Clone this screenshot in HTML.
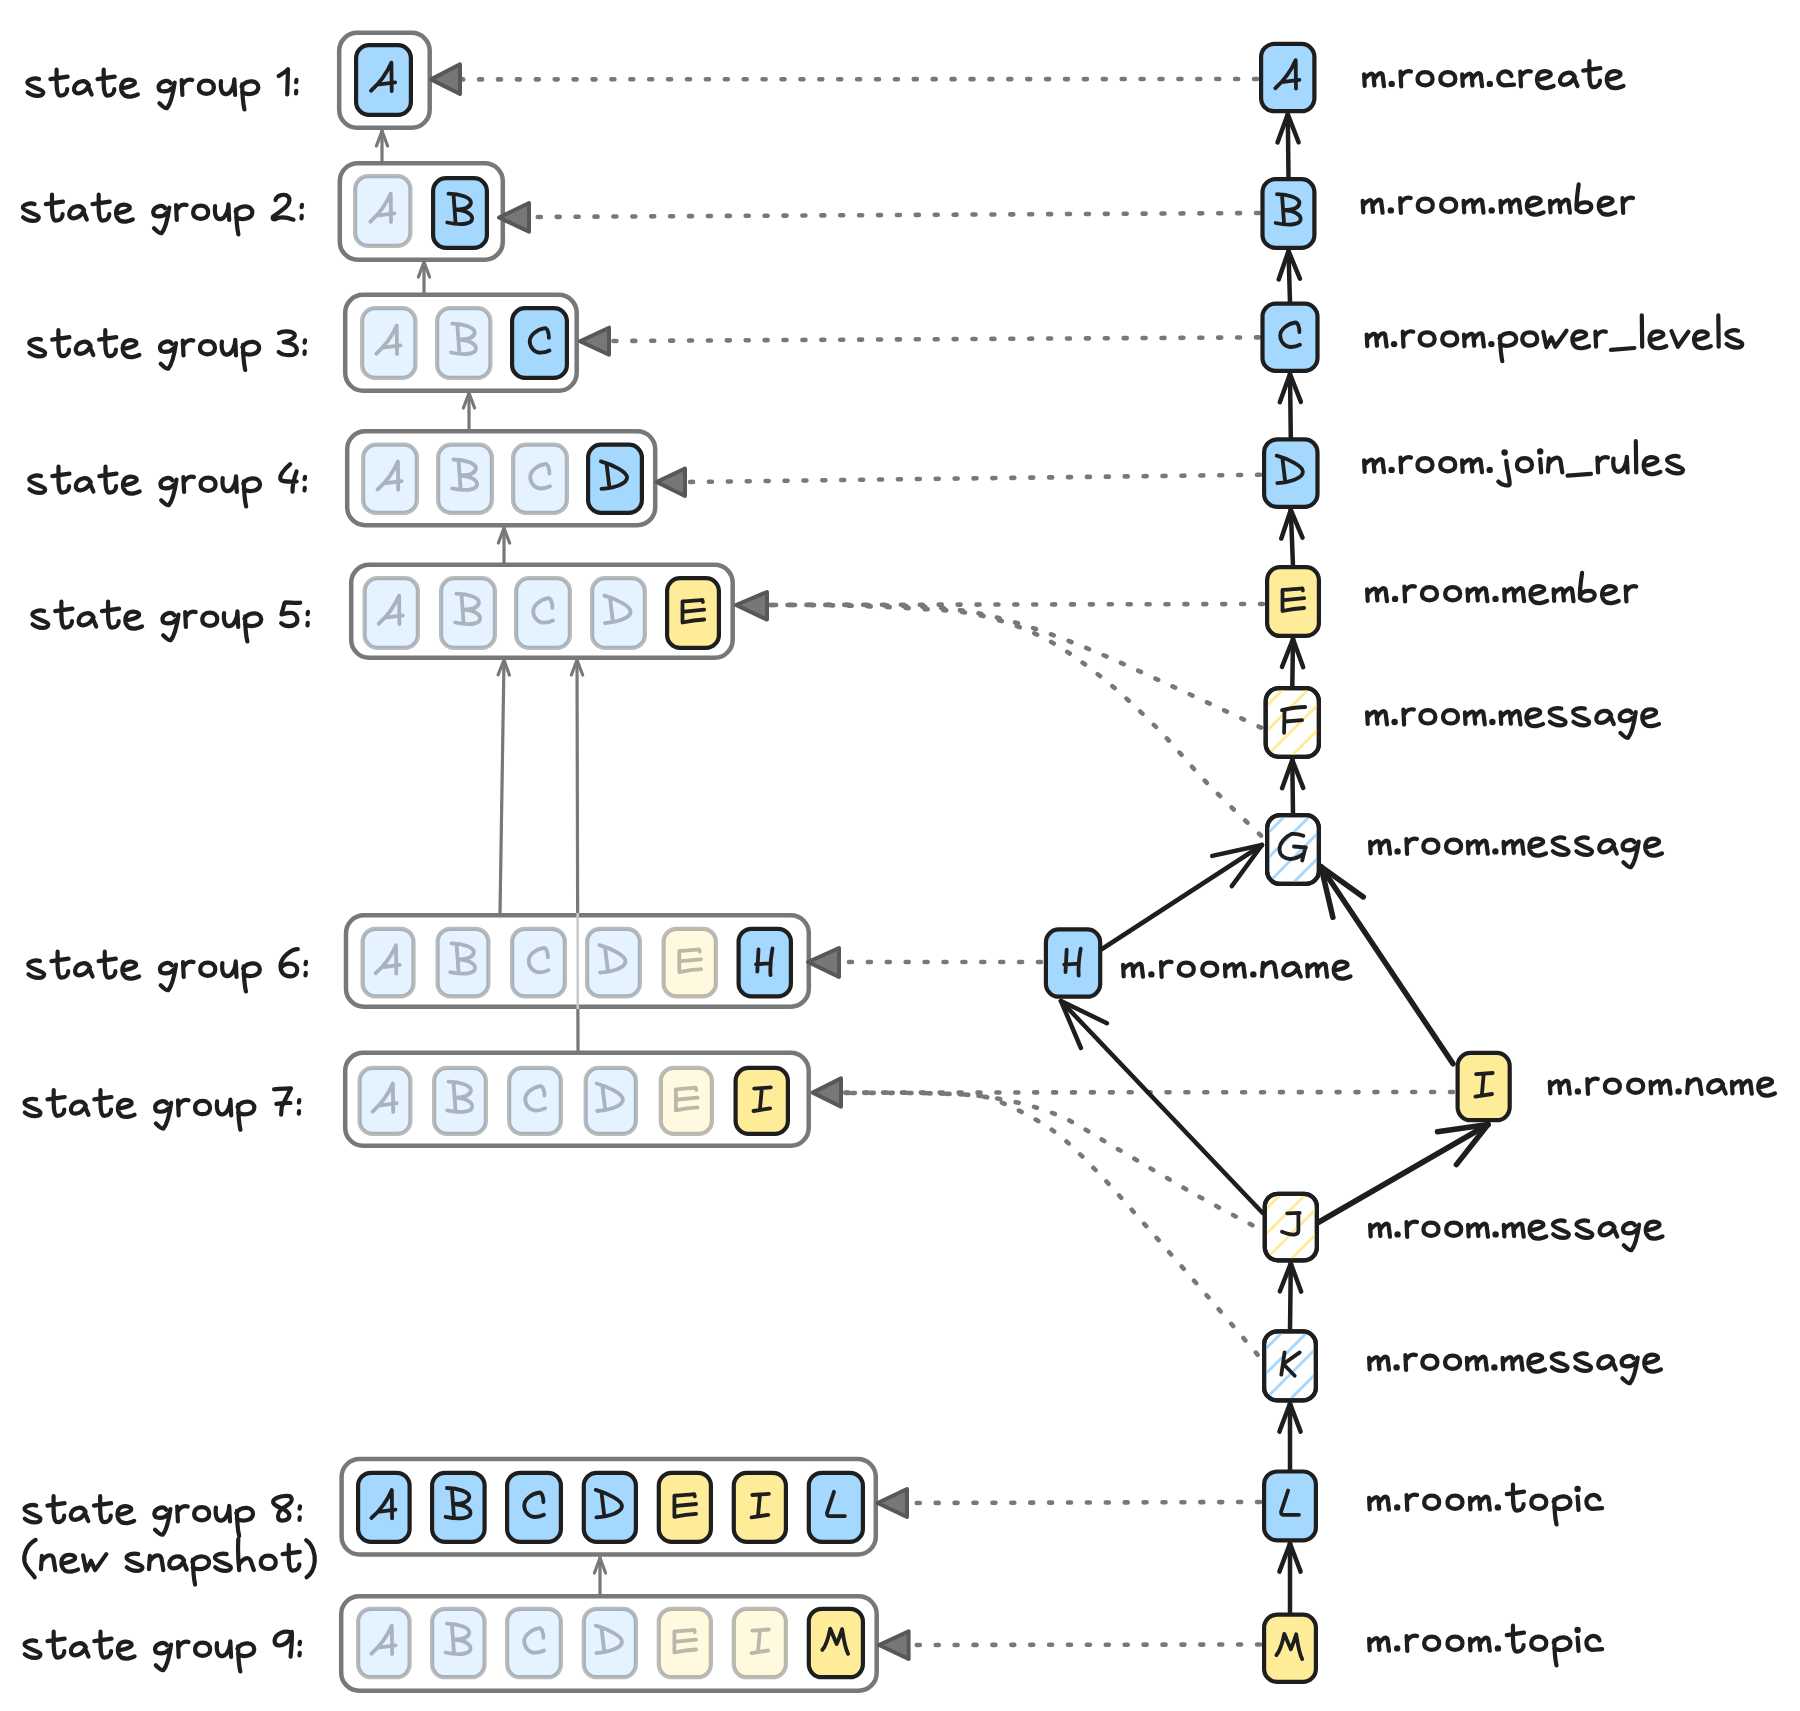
<!DOCTYPE html>
<html><head><meta charset="utf-8"><style>html,body{margin:0;padding:0;background:#fff;width:1800px;height:1711px;overflow:hidden}svg{display:block}</style></head><body>
<svg width="1800" height="1711" viewBox="0 0 1800 1711">
<style>.lb{font-family:"Liberation Sans",sans-serif;font-size:36px;fill:#1e1e1e;stroke:#1e1e1e;stroke-width:0.9px}.nl{font-family:"Liberation Sans",sans-serif;font-size:37px;fill:#1e1e1e;stroke:#1e1e1e;stroke-width:0.6px}</style>
<rect width="1800" height="1711" fill="#ffffff"/>
<g fill="none" stroke="#1e1e1e" stroke-width="4.2" stroke-linecap="round" stroke-linejoin="round"><path transform="translate(25.5,95.0)" d="M13.5,-16 C8.7,-17.5 1,-15.3 2,-11.8 C3.1,-8.3 17.8,-6 17.8,-2.4 C17.8,2 7.3,2 2.1,-2.8"/><path transform="translate(49.2,95.0)" d="M7.4,-25.3 C7.4,-12.4 6.6,0.4 11.3,0.6 C15.9,0.6 18,-2.7 18,-5.8 M1.2,-15.9 L18.4,-18.3"/><path transform="translate(72.6,95.0)" d="M16.3,-9.7 C12.8,-16.7 3.1,-13.9 1.5,-6.9 C0.3,0 10.1,0.7 15.6,-8.3 L19,-0.5"/><path transform="translate(96.3,95.0)" d="M7.4,-25.3 C7.4,-12.4 6.6,0.4 11.3,0.6 C15.9,0.6 18,-2.7 18,-5.8 M1.2,-15.9 L18.4,-18.3"/><path transform="translate(119.6,95.0)" d="M1.5,-6.6 C6.6,-7 13.6,-8.9 15.2,-11.3 C16,-15.2 9.7,-16.3 5.1,-14.4 C0.5,-11.3 0.3,-3.5 5.1,0.5 C9.7,2.8 15.9,0.8 18.3,-0.6"/><path transform="translate(157.3,95.0)" d="M13.2,-11.8 C9.7,-16.7 0.7,-12.5 1.4,-6.9 C2.1,-2.1 11.1,-2.8 14.6,-6.9 M17.4,-12.5 C16,-2.8 13.9,8.3 9.7,13.2 C7.6,13.9 4.2,10.4 2.1,8.3"/><path transform="translate(180.0,95.0)" d="M1.7,-15 L2.4,0 M2.2,-10 C5,-15 9.4,-16 12.2,-15"/><path transform="translate(196.9,95.0)" d="M2,-7.6 C2,-12.2 5.3,-14.4 9.5,-14.4 C13.9,-14.4 17,-11.8 17,-7.6 C17,-3.4 13.9,-1.1 9.5,-1.1 C5.3,-1.1 2,-3.4 2,-7.6 Z"/><path transform="translate(219.9,95.0)" d="M1.1,-13.9 C0,-4.4 2.8,0 7.2,-1.1 C11.7,-2.2 14.4,-10 14.4,-15.6 L15.2,0"/><path transform="translate(240.5,95.0)" d="M1.7,-10.6 C1.8,-2 2.5,8 3.9,14.4 M1.1,-8.3 C6.1,-16.1 18.3,-15 17.8,-7.2 C17.2,-0.6 6.1,0.6 1.7,-2.8"/><path transform="translate(277.2,95.0)" d="M1.5,-19 C4,-20.7 9,-23.3 10.8,-25.7 L10,-0.5"/><path transform="translate(293.8,95.0)" d="M2.7,-15.2 L2.3,-12.8 M2.5,-4.2 L2.2,-1.7"/></g>
<g fill="#1e1e1e"></g>
<g fill="none" stroke="#1e1e1e" stroke-width="4.2" stroke-linecap="round" stroke-linejoin="round"><path transform="translate(21.0,220.0)" d="M13.5,-16 C8.7,-17.5 1,-15.3 2,-11.8 C3.1,-8.3 17.8,-6 17.8,-2.4 C17.8,2 7.3,2 2.1,-2.8"/><path transform="translate(44.6,220.0)" d="M7.4,-25.3 C7.4,-12.4 6.6,0.4 11.3,0.6 C15.9,0.6 18,-2.7 18,-5.8 M1.2,-15.9 L18.4,-18.3"/><path transform="translate(67.8,220.0)" d="M16.3,-9.7 C12.8,-16.7 3.1,-13.9 1.5,-6.9 C0.3,0 10.1,0.7 15.6,-8.3 L19,-0.5"/><path transform="translate(91.3,220.0)" d="M7.4,-25.3 C7.4,-12.4 6.6,0.4 11.3,0.6 C15.9,0.6 18,-2.7 18,-5.8 M1.2,-15.9 L18.4,-18.3"/><path transform="translate(114.5,220.0)" d="M1.5,-6.6 C6.6,-7 13.6,-8.9 15.2,-11.3 C16,-15.2 9.7,-16.3 5.1,-14.4 C0.5,-11.3 0.3,-3.5 5.1,0.5 C9.7,2.8 15.9,0.8 18.3,-0.6"/><path transform="translate(151.9,220.0)" d="M13.2,-11.8 C9.7,-16.7 0.7,-12.5 1.4,-6.9 C2.1,-2.1 11.1,-2.8 14.6,-6.9 M17.4,-12.5 C16,-2.8 13.9,8.3 9.7,13.2 C7.6,13.9 4.2,10.4 2.1,8.3"/><path transform="translate(174.4,220.0)" d="M1.7,-15 L2.4,0 M2.2,-10 C5,-15 9.4,-16 12.2,-15"/><path transform="translate(191.2,220.0)" d="M2,-7.6 C2,-12.2 5.3,-14.4 9.5,-14.4 C13.9,-14.4 17,-11.8 17,-7.6 C17,-3.4 13.9,-1.1 9.5,-1.1 C5.3,-1.1 2,-3.4 2,-7.6 Z"/><path transform="translate(214.0,220.0)" d="M1.1,-13.9 C0,-4.4 2.8,0 7.2,-1.1 C11.7,-2.2 14.4,-10 14.4,-15.6 L15.2,0"/><path transform="translate(234.5,220.0)" d="M1.7,-10.6 C1.8,-2 2.5,8 3.9,14.4 M1.1,-8.3 C6.1,-16.1 18.3,-15 17.8,-7.2 C17.2,-0.6 6.1,0.6 1.7,-2.8"/><path transform="translate(270.8,220.0)" d="M4.7,-20 C5.7,-24 11.7,-26.3 15.7,-24.7 C20,-22.7 19.3,-17 15,-13 C10,-9 6.7,-6.3 3.7,-4.3 C0.7,-2.7 1.7,0.3 5,-1 C8.3,-3 15,-3 22.7,-0.3"/><path transform="translate(299.3,220.0)" d="M2.7,-15.2 L2.3,-12.8 M2.5,-4.2 L2.2,-1.7"/></g>
<g fill="#1e1e1e"></g>
<g fill="none" stroke="#1e1e1e" stroke-width="4.2" stroke-linecap="round" stroke-linejoin="round"><path transform="translate(27.4,355.5)" d="M13.5,-16 C8.7,-17.5 1,-15.3 2,-11.8 C3.1,-8.3 17.8,-6 17.8,-2.4 C17.8,2 7.3,2 2.1,-2.8"/><path transform="translate(51.0,355.5)" d="M7.4,-25.3 C7.4,-12.4 6.6,0.4 11.3,0.6 C15.9,0.6 18,-2.7 18,-5.8 M1.2,-15.9 L18.4,-18.3"/><path transform="translate(74.3,355.5)" d="M16.3,-9.7 C12.8,-16.7 3.1,-13.9 1.5,-6.9 C0.3,0 10.1,0.7 15.6,-8.3 L19,-0.5"/><path transform="translate(97.9,355.5)" d="M7.4,-25.3 C7.4,-12.4 6.6,0.4 11.3,0.6 C15.9,0.6 18,-2.7 18,-5.8 M1.2,-15.9 L18.4,-18.3"/><path transform="translate(121.1,355.5)" d="M1.5,-6.6 C6.6,-7 13.6,-8.9 15.2,-11.3 C16,-15.2 9.7,-16.3 5.1,-14.4 C0.5,-11.3 0.3,-3.5 5.1,0.5 C9.7,2.8 15.9,0.8 18.3,-0.6"/><path transform="translate(158.6,355.5)" d="M13.2,-11.8 C9.7,-16.7 0.7,-12.5 1.4,-6.9 C2.1,-2.1 11.1,-2.8 14.6,-6.9 M17.4,-12.5 C16,-2.8 13.9,8.3 9.7,13.2 C7.6,13.9 4.2,10.4 2.1,8.3"/><path transform="translate(181.1,355.5)" d="M1.7,-15 L2.4,0 M2.2,-10 C5,-15 9.4,-16 12.2,-15"/><path transform="translate(198.0,355.5)" d="M2,-7.6 C2,-12.2 5.3,-14.4 9.5,-14.4 C13.9,-14.4 17,-11.8 17,-7.6 C17,-3.4 13.9,-1.1 9.5,-1.1 C5.3,-1.1 2,-3.4 2,-7.6 Z"/><path transform="translate(220.8,355.5)" d="M1.1,-13.9 C0,-4.4 2.8,0 7.2,-1.1 C11.7,-2.2 14.4,-10 14.4,-15.6 L15.2,0"/><path transform="translate(241.3,355.5)" d="M1.7,-10.6 C1.8,-2 2.5,8 3.9,14.4 M1.1,-8.3 C6.1,-16.1 18.3,-15 17.8,-7.2 C17.2,-0.6 6.1,0.6 1.7,-2.8"/><path transform="translate(277.8,355.5)" d="M1.2,-22.5 C4.7,-24.8 13.4,-24.8 16.4,-21.9 C18.7,-19.3 14.9,-15.5 5.8,-13.4 C14.9,-12.3 19,-9.4 19,-5.8 C19,-1.8 16.4,-0.3 10.5,-0.3 C6.1,-0.5 3.2,-1.5 0.9,-3.5"/><path transform="translate(302.3,355.5)" d="M2.7,-15.2 L2.3,-12.8 M2.5,-4.2 L2.2,-1.7"/></g>
<g fill="#1e1e1e"></g>
<g fill="none" stroke="#1e1e1e" stroke-width="4.2" stroke-linecap="round" stroke-linejoin="round"><path transform="translate(27.4,492.0)" d="M13.5,-16 C8.7,-17.5 1,-15.3 2,-11.8 C3.1,-8.3 17.8,-6 17.8,-2.4 C17.8,2 7.3,2 2.1,-2.8"/><path transform="translate(51.1,492.0)" d="M7.4,-25.3 C7.4,-12.4 6.6,0.4 11.3,0.6 C15.9,0.6 18,-2.7 18,-5.8 M1.2,-15.9 L18.4,-18.3"/><path transform="translate(74.4,492.0)" d="M16.3,-9.7 C12.8,-16.7 3.1,-13.9 1.5,-6.9 C0.3,0 10.1,0.7 15.6,-8.3 L19,-0.5"/><path transform="translate(98.1,492.0)" d="M7.4,-25.3 C7.4,-12.4 6.6,0.4 11.3,0.6 C15.9,0.6 18,-2.7 18,-5.8 M1.2,-15.9 L18.4,-18.3"/><path transform="translate(121.4,492.0)" d="M1.5,-6.6 C6.6,-7 13.6,-8.9 15.2,-11.3 C16,-15.2 9.7,-16.3 5.1,-14.4 C0.5,-11.3 0.3,-3.5 5.1,0.5 C9.7,2.8 15.9,0.8 18.3,-0.6"/><path transform="translate(159.1,492.0)" d="M13.2,-11.8 C9.7,-16.7 0.7,-12.5 1.4,-6.9 C2.1,-2.1 11.1,-2.8 14.6,-6.9 M17.4,-12.5 C16,-2.8 13.9,8.3 9.7,13.2 C7.6,13.9 4.2,10.4 2.1,8.3"/><path transform="translate(181.7,492.0)" d="M1.7,-15 L2.4,0 M2.2,-10 C5,-15 9.4,-16 12.2,-15"/><path transform="translate(198.6,492.0)" d="M2,-7.6 C2,-12.2 5.3,-14.4 9.5,-14.4 C13.9,-14.4 17,-11.8 17,-7.6 C17,-3.4 13.9,-1.1 9.5,-1.1 C5.3,-1.1 2,-3.4 2,-7.6 Z"/><path transform="translate(221.6,492.0)" d="M1.1,-13.9 C0,-4.4 2.8,0 7.2,-1.1 C11.7,-2.2 14.4,-10 14.4,-15.6 L15.2,0"/><path transform="translate(242.2,492.0)" d="M1.7,-10.6 C1.8,-2 2.5,8 3.9,14.4 M1.1,-8.3 C6.1,-16.1 18.3,-15 17.8,-7.2 C17.2,-0.6 6.1,0.6 1.7,-2.8"/><path transform="translate(278.8,492.0)" d="M11.4,-27.8 C6.4,-23.4 0.6,-17.5 1.5,-13.1 C2.3,-10.2 7.9,-10.2 17.8,-10.5 M17.8,-20.5 C16.1,-16.1 13.7,-8.8 13.7,-0.3"/><path transform="translate(302.3,492.0)" d="M2.7,-15.2 L2.3,-12.8 M2.5,-4.2 L2.2,-1.7"/></g>
<g fill="#1e1e1e"></g>
<g fill="none" stroke="#1e1e1e" stroke-width="4.2" stroke-linecap="round" stroke-linejoin="round"><path transform="translate(30.5,627.0)" d="M13.5,-16 C8.7,-17.5 1,-15.3 2,-11.8 C3.1,-8.3 17.8,-6 17.8,-2.4 C17.8,2 7.3,2 2.1,-2.8"/><path transform="translate(54.0,627.0)" d="M7.4,-25.3 C7.4,-12.4 6.6,0.4 11.3,0.6 C15.9,0.6 18,-2.7 18,-5.8 M1.2,-15.9 L18.4,-18.3"/><path transform="translate(77.2,627.0)" d="M16.3,-9.7 C12.8,-16.7 3.1,-13.9 1.5,-6.9 C0.3,0 10.1,0.7 15.6,-8.3 L19,-0.5"/><path transform="translate(100.7,627.0)" d="M7.4,-25.3 C7.4,-12.4 6.6,0.4 11.3,0.6 C15.9,0.6 18,-2.7 18,-5.8 M1.2,-15.9 L18.4,-18.3"/><path transform="translate(123.8,627.0)" d="M1.5,-6.6 C6.6,-7 13.6,-8.9 15.2,-11.3 C16,-15.2 9.7,-16.3 5.1,-14.4 C0.5,-11.3 0.3,-3.5 5.1,0.5 C9.7,2.8 15.9,0.8 18.3,-0.6"/><path transform="translate(161.1,627.0)" d="M13.2,-11.8 C9.7,-16.7 0.7,-12.5 1.4,-6.9 C2.1,-2.1 11.1,-2.8 14.6,-6.9 M17.4,-12.5 C16,-2.8 13.9,8.3 9.7,13.2 C7.6,13.9 4.2,10.4 2.1,8.3"/><path transform="translate(183.5,627.0)" d="M1.7,-15 L2.4,0 M2.2,-10 C5,-15 9.4,-16 12.2,-15"/><path transform="translate(200.3,627.0)" d="M2,-7.6 C2,-12.2 5.3,-14.4 9.5,-14.4 C13.9,-14.4 17,-11.8 17,-7.6 C17,-3.4 13.9,-1.1 9.5,-1.1 C5.3,-1.1 2,-3.4 2,-7.6 Z"/><path transform="translate(223.0,627.0)" d="M1.1,-13.9 C0,-4.4 2.8,0 7.2,-1.1 C11.7,-2.2 14.4,-10 14.4,-15.6 L15.2,0"/><path transform="translate(243.4,627.0)" d="M1.7,-10.6 C1.8,-2 2.5,8 3.9,14.4 M1.1,-8.3 C6.1,-16.1 18.3,-15 17.8,-7.2 C17.2,-0.6 6.1,0.6 1.7,-2.8"/><path transform="translate(279.7,627.0)" d="M20.5,-24.3 C15.2,-23.4 9.4,-24.8 5,-24.5 L1.8,-12.6 C6.4,-13.7 10.8,-14.9 13.7,-13.7 C17.5,-12 18.7,-6.7 16.7,-3.8 C13.7,-0.3 6.4,0.6 1.5,-3.8"/><path transform="translate(305.3,627.0)" d="M2.7,-15.2 L2.3,-12.8 M2.5,-4.2 L2.2,-1.7"/></g>
<g fill="#1e1e1e"></g>
<g fill="none" stroke="#1e1e1e" stroke-width="4.2" stroke-linecap="round" stroke-linejoin="round"><path transform="translate(26.4,977.0)" d="M13.5,-16 C8.7,-17.5 1,-15.3 2,-11.8 C3.1,-8.3 17.8,-6 17.8,-2.4 C17.8,2 7.3,2 2.1,-2.8"/><path transform="translate(50.2,977.0)" d="M7.4,-25.3 C7.4,-12.4 6.6,0.4 11.3,0.6 C15.9,0.6 18,-2.7 18,-5.8 M1.2,-15.9 L18.4,-18.3"/><path transform="translate(73.6,977.0)" d="M16.3,-9.7 C12.8,-16.7 3.1,-13.9 1.5,-6.9 C0.3,0 10.1,0.7 15.6,-8.3 L19,-0.5"/><path transform="translate(97.4,977.0)" d="M7.4,-25.3 C7.4,-12.4 6.6,0.4 11.3,0.6 C15.9,0.6 18,-2.7 18,-5.8 M1.2,-15.9 L18.4,-18.3"/><path transform="translate(120.8,977.0)" d="M1.5,-6.6 C6.6,-7 13.6,-8.9 15.2,-11.3 C16,-15.2 9.7,-16.3 5.1,-14.4 C0.5,-11.3 0.3,-3.5 5.1,0.5 C9.7,2.8 15.9,0.8 18.3,-0.6"/><path transform="translate(158.6,977.0)" d="M13.2,-11.8 C9.7,-16.7 0.7,-12.5 1.4,-6.9 C2.1,-2.1 11.1,-2.8 14.6,-6.9 M17.4,-12.5 C16,-2.8 13.9,8.3 9.7,13.2 C7.6,13.9 4.2,10.4 2.1,8.3"/><path transform="translate(181.3,977.0)" d="M1.7,-15 L2.4,0 M2.2,-10 C5,-15 9.4,-16 12.2,-15"/><path transform="translate(198.3,977.0)" d="M2,-7.6 C2,-12.2 5.3,-14.4 9.5,-14.4 C13.9,-14.4 17,-11.8 17,-7.6 C17,-3.4 13.9,-1.1 9.5,-1.1 C5.3,-1.1 2,-3.4 2,-7.6 Z"/><path transform="translate(221.3,977.0)" d="M1.1,-13.9 C0,-4.4 2.8,0 7.2,-1.1 C11.7,-2.2 14.4,-10 14.4,-15.6 L15.2,0"/><path transform="translate(242.0,977.0)" d="M1.7,-10.6 C1.8,-2 2.5,8 3.9,14.4 M1.1,-8.3 C6.1,-16.1 18.3,-15 17.8,-7.2 C17.2,-0.6 6.1,0.6 1.7,-2.8"/><path transform="translate(278.8,977.0)" d="M19,-27.8 C12.9,-27.8 2.6,-20.5 1.8,-11.7 C1.2,-4.4 5.6,-0.6 11.4,-0.6 C17.2,-0.9 18.7,-4.4 18.4,-7.9 C18.1,-11.7 14.3,-13.4 10.8,-13.4 C7,-13.4 3.5,-11.4 2,-8.8"/><path transform="translate(303.3,977.0)" d="M2.7,-15.2 L2.3,-12.8 M2.5,-4.2 L2.2,-1.7"/></g>
<g fill="#1e1e1e"></g>
<g fill="none" stroke="#1e1e1e" stroke-width="4.2" stroke-linecap="round" stroke-linejoin="round"><path transform="translate(22.7,1115.3)" d="M13.5,-16 C8.7,-17.5 1,-15.3 2,-11.8 C3.1,-8.3 17.8,-6 17.8,-2.4 C17.8,2 7.3,2 2.1,-2.8"/><path transform="translate(46.3,1115.3)" d="M7.4,-25.3 C7.4,-12.4 6.6,0.4 11.3,0.6 C15.9,0.6 18,-2.7 18,-5.8 M1.2,-15.9 L18.4,-18.3"/><path transform="translate(69.5,1115.3)" d="M16.3,-9.7 C12.8,-16.7 3.1,-13.9 1.5,-6.9 C0.3,0 10.1,0.7 15.6,-8.3 L19,-0.5"/><path transform="translate(93.1,1115.3)" d="M7.4,-25.3 C7.4,-12.4 6.6,0.4 11.3,0.6 C15.9,0.6 18,-2.7 18,-5.8 M1.2,-15.9 L18.4,-18.3"/><path transform="translate(116.3,1115.3)" d="M1.5,-6.6 C6.6,-7 13.6,-8.9 15.2,-11.3 C16,-15.2 9.7,-16.3 5.1,-14.4 C0.5,-11.3 0.3,-3.5 5.1,0.5 C9.7,2.8 15.9,0.8 18.3,-0.6"/><path transform="translate(153.8,1115.3)" d="M13.2,-11.8 C9.7,-16.7 0.7,-12.5 1.4,-6.9 C2.1,-2.1 11.1,-2.8 14.6,-6.9 M17.4,-12.5 C16,-2.8 13.9,8.3 9.7,13.2 C7.6,13.9 4.2,10.4 2.1,8.3"/><path transform="translate(176.3,1115.3)" d="M1.7,-15 L2.4,0 M2.2,-10 C5,-15 9.4,-16 12.2,-15"/><path transform="translate(193.1,1115.3)" d="M2,-7.6 C2,-12.2 5.3,-14.4 9.5,-14.4 C13.9,-14.4 17,-11.8 17,-7.6 C17,-3.4 13.9,-1.1 9.5,-1.1 C5.3,-1.1 2,-3.4 2,-7.6 Z"/><path transform="translate(216.0,1115.3)" d="M1.1,-13.9 C0,-4.4 2.8,0 7.2,-1.1 C11.7,-2.2 14.4,-10 14.4,-15.6 L15.2,0"/><path transform="translate(236.5,1115.3)" d="M1.7,-10.6 C1.8,-2 2.5,8 3.9,14.4 M1.1,-8.3 C6.1,-16.1 18.3,-15 17.8,-7.2 C17.2,-0.6 6.1,0.6 1.7,-2.8"/><path transform="translate(272.9,1115.3)" d="M1.2,-26 C6.4,-26.3 13.7,-27.2 18.1,-26.9 C15.2,-21 10.8,-13.7 8.8,-7.9 L8.2,-0.6 M3.5,-11.4 C7.9,-12 13.7,-12.6 17.5,-12.3"/><path transform="translate(296.6,1115.3)" d="M2.7,-15.2 L2.3,-12.8 M2.5,-4.2 L2.2,-1.7"/></g>
<g fill="#1e1e1e"></g>
<g fill="none" stroke="#1e1e1e" stroke-width="4.2" stroke-linecap="round" stroke-linejoin="round"><path transform="translate(22.7,1521.5)" d="M13.5,-16 C8.7,-17.5 1,-15.3 2,-11.8 C3.1,-8.3 17.8,-6 17.8,-2.4 C17.8,2 7.3,2 2.1,-2.8"/><path transform="translate(46.2,1521.5)" d="M7.4,-25.3 C7.4,-12.4 6.6,0.4 11.3,0.6 C15.9,0.6 18,-2.7 18,-5.8 M1.2,-15.9 L18.4,-18.3"/><path transform="translate(69.3,1521.5)" d="M16.3,-9.7 C12.8,-16.7 3.1,-13.9 1.5,-6.9 C0.3,0 10.1,0.7 15.6,-8.3 L19,-0.5"/><path transform="translate(92.8,1521.5)" d="M7.4,-25.3 C7.4,-12.4 6.6,0.4 11.3,0.6 C15.9,0.6 18,-2.7 18,-5.8 M1.2,-15.9 L18.4,-18.3"/><path transform="translate(115.9,1521.5)" d="M1.5,-6.6 C6.6,-7 13.6,-8.9 15.2,-11.3 C16,-15.2 9.7,-16.3 5.1,-14.4 C0.5,-11.3 0.3,-3.5 5.1,0.5 C9.7,2.8 15.9,0.8 18.3,-0.6"/><path transform="translate(153.0,1521.5)" d="M13.2,-11.8 C9.7,-16.7 0.7,-12.5 1.4,-6.9 C2.1,-2.1 11.1,-2.8 14.6,-6.9 M17.4,-12.5 C16,-2.8 13.9,8.3 9.7,13.2 C7.6,13.9 4.2,10.4 2.1,8.3"/><path transform="translate(175.5,1521.5)" d="M1.7,-15 L2.4,0 M2.2,-10 C5,-15 9.4,-16 12.2,-15"/><path transform="translate(192.2,1521.5)" d="M2,-7.6 C2,-12.2 5.3,-14.4 9.5,-14.4 C13.9,-14.4 17,-11.8 17,-7.6 C17,-3.4 13.9,-1.1 9.5,-1.1 C5.3,-1.1 2,-3.4 2,-7.6 Z"/><path transform="translate(214.8,1521.5)" d="M1.1,-13.9 C0,-4.4 2.8,0 7.2,-1.1 C11.7,-2.2 14.4,-10 14.4,-15.6 L15.2,0"/><path transform="translate(235.2,1521.5)" d="M1.7,-10.6 C1.8,-2 2.5,8 3.9,14.4 M1.1,-8.3 C6.1,-16.1 18.3,-15 17.8,-7.2 C17.2,-0.6 6.1,0.6 1.7,-2.8"/><path transform="translate(271.4,1521.5)" d="M18.1,-25.4 C9.6,-26.3 0.9,-22.8 1.8,-19 C2.9,-15.5 9.6,-13.7 12.6,-12 C18.4,-8.8 19,-5.3 16.9,-2.9 C14,-0.3 8.2,-0.3 7,-2.9 C5.8,-6.7 8.2,-11.1 12,-13.7 C15.5,-16.1 20.8,-18.4 20.3,-22.2 C19.8,-24.8 18.4,-25.7 18.1,-25.4"/><path transform="translate(297.3,1521.5)" d="M2.7,-15.2 L2.3,-12.8 M2.5,-4.2 L2.2,-1.7"/></g>
<g fill="#1e1e1e"></g>
<g fill="none" stroke="#1e1e1e" stroke-width="4.2" stroke-linecap="round" stroke-linejoin="round"><path transform="translate(22.7,1570.1)" d="M12.9,-30.2 C4,-25.3 0.6,-15.5 1.8,-8.4 C3.1,-2.2 8.4,2.2 12,7.1"/><path transform="translate(40.1,1570.1)" d="M1.8,-14.2 L0.9,-0.9 M1.3,-8.4 C5.3,-14.7 11.6,-17.3 13.3,-12 L15.2,0"/><path transform="translate(59.8,1570.1)" d="M1.5,-6.6 C6.6,-7 13.6,-8.9 15.2,-11.3 C16,-15.2 9.7,-16.3 5.1,-14.4 C0.5,-11.3 0.3,-3.5 5.1,0.5 C9.7,2.8 15.9,0.8 18.3,-0.6"/><path transform="translate(82.7,1570.1)" d="M0.4,-14.7 L3.6,0.4 L8.4,-9.3 L12.4,0 L23.6,-16"/><path transform="translate(124.7,1570.1)" d="M13.5,-16 C8.7,-17.5 1,-15.3 2,-11.8 C3.1,-8.3 17.8,-6 17.8,-2.4 C17.8,2 7.3,2 2.1,-2.8"/><path transform="translate(148.1,1570.1)" d="M1.8,-14.2 L0.9,-0.9 M1.3,-8.4 C5.3,-14.7 11.6,-17.3 13.3,-12 L15.2,0"/><path transform="translate(167.8,1570.1)" d="M16.3,-9.7 C12.8,-16.7 3.1,-13.9 1.5,-6.9 C0.3,0 10.1,0.7 15.6,-8.3 L19,-0.5"/><path transform="translate(191.2,1570.1)" d="M1.7,-10.6 C1.8,-2 2.5,8 3.9,14.4 M1.1,-8.3 C6.1,-16.1 18.3,-15 17.8,-7.2 C17.2,-0.6 6.1,0.6 1.7,-2.8"/><path transform="translate(213.1,1570.1)" d="M13.5,-16 C8.7,-17.5 1,-15.3 2,-11.8 C3.1,-8.3 17.8,-6 17.8,-2.4 C17.8,2 7.3,2 2.1,-2.8"/><path transform="translate(236.5,1570.1)" d="M1.8,-31.1 C1.3,-21.8 1.8,-8.4 2.7,0 M2.7,-5.8 C5.8,-11.1 11.1,-13.8 13.8,-10.2 L17.4,0"/><path transform="translate(258.8,1570.1)" d="M2,-7.6 C2,-12.2 5.3,-14.4 9.5,-14.4 C13.9,-14.4 17,-11.8 17,-7.6 C17,-3.4 13.9,-1.1 9.5,-1.1 C5.3,-1.1 2,-3.4 2,-7.6 Z"/><path transform="translate(281.4,1570.1)" d="M7.4,-25.3 C7.4,-12.4 6.6,0.4 11.3,0.6 C15.9,0.6 18,-2.7 18,-5.8 M1.2,-15.9 L18.4,-18.3"/><path transform="translate(304.4,1570.1)" d="M1.8,-29.8 C8.4,-25.3 11,-15.5 10.3,-8.4 C9.6,-1.3 6.7,4 2.2,7.1"/></g>
<g fill="#1e1e1e"></g>
<g fill="none" stroke="#1e1e1e" stroke-width="4.2" stroke-linecap="round" stroke-linejoin="round"><path transform="translate(22.7,1657.0)" d="M13.5,-16 C8.7,-17.5 1,-15.3 2,-11.8 C3.1,-8.3 17.8,-6 17.8,-2.4 C17.8,2 7.3,2 2.1,-2.8"/><path transform="translate(46.3,1657.0)" d="M7.4,-25.3 C7.4,-12.4 6.6,0.4 11.3,0.6 C15.9,0.6 18,-2.7 18,-5.8 M1.2,-15.9 L18.4,-18.3"/><path transform="translate(69.5,1657.0)" d="M16.3,-9.7 C12.8,-16.7 3.1,-13.9 1.5,-6.9 C0.3,0 10.1,0.7 15.6,-8.3 L19,-0.5"/><path transform="translate(93.1,1657.0)" d="M7.4,-25.3 C7.4,-12.4 6.6,0.4 11.3,0.6 C15.9,0.6 18,-2.7 18,-5.8 M1.2,-15.9 L18.4,-18.3"/><path transform="translate(116.3,1657.0)" d="M1.5,-6.6 C6.6,-7 13.6,-8.9 15.2,-11.3 C16,-15.2 9.7,-16.3 5.1,-14.4 C0.5,-11.3 0.3,-3.5 5.1,0.5 C9.7,2.8 15.9,0.8 18.3,-0.6"/><path transform="translate(153.7,1657.0)" d="M13.2,-11.8 C9.7,-16.7 0.7,-12.5 1.4,-6.9 C2.1,-2.1 11.1,-2.8 14.6,-6.9 M17.4,-12.5 C16,-2.8 13.9,8.3 9.7,13.2 C7.6,13.9 4.2,10.4 2.1,8.3"/><path transform="translate(176.3,1657.0)" d="M1.7,-15 L2.4,0 M2.2,-10 C5,-15 9.4,-16 12.2,-15"/><path transform="translate(193.1,1657.0)" d="M2,-7.6 C2,-12.2 5.3,-14.4 9.5,-14.4 C13.9,-14.4 17,-11.8 17,-7.6 C17,-3.4 13.9,-1.1 9.5,-1.1 C5.3,-1.1 2,-3.4 2,-7.6 Z"/><path transform="translate(215.9,1657.0)" d="M1.1,-13.9 C0,-4.4 2.8,0 7.2,-1.1 C11.7,-2.2 14.4,-10 14.4,-15.6 L15.2,0"/><path transform="translate(236.4,1657.0)" d="M1.7,-10.6 C1.8,-2 2.5,8 3.9,14.4 M1.1,-8.3 C6.1,-16.1 18.3,-15 17.8,-7.2 C17.2,-0.6 6.1,0.6 1.7,-2.8"/><path transform="translate(272.8,1657.0)" d="M18.1,-24.3 C12.6,-27.2 2.3,-23.7 1.8,-16.4 C1.5,-10.5 8.2,-10.5 12.6,-13.4 C15.5,-15.2 17,-17.8 18.1,-22.2 M19,-25.1 C19.6,-17.8 18.4,-7.6 17.8,-0.3"/><path transform="translate(297.3,1657.0)" d="M2.7,-15.2 L2.3,-12.8 M2.5,-4.2 L2.2,-1.7"/></g>
<g fill="#1e1e1e"></g>
<g fill="none" stroke="#1e1e1e" stroke-width="4.2" stroke-linecap="round" stroke-linejoin="round"><path transform="translate(1363.0,86.5)" d="M1.1,-12.2 L1.7,-0.6 M1.7,-7.8 C6,-13 9.5,-14.5 10.5,-11 L11.4,-1 M11.4,-7.8 C14.5,-13 18,-15 19.5,-12 L21,-0.3"/><path transform="translate(1398.8,86.5)" d="M1.7,-15 L2.4,0 M2.2,-10 C5,-15 9.4,-16 12.2,-15"/><path transform="translate(1415.6,86.5)" d="M2,-7.6 C2,-12.2 5.3,-14.4 9.5,-14.4 C13.9,-14.4 17,-11.8 17,-7.6 C17,-3.4 13.9,-1.1 9.5,-1.1 C5.3,-1.1 2,-3.4 2,-7.6 Z"/><path transform="translate(1438.4,86.5)" d="M2,-7.6 C2,-12.2 5.3,-14.4 9.5,-14.4 C13.9,-14.4 17,-11.8 17,-7.6 C17,-3.4 13.9,-1.1 9.5,-1.1 C5.3,-1.1 2,-3.4 2,-7.6 Z"/><path transform="translate(1461.1,86.5)" d="M1.1,-12.2 L1.7,-0.6 M1.7,-7.8 C6,-13 9.5,-14.5 10.5,-11 L11.4,-1 M11.4,-7.8 C14.5,-13 18,-15 19.5,-12 L21,-0.3"/><path transform="translate(1497.0,86.5)" d="M14.4,-10.5 C13.2,-15.2 7,-16.7 3.1,-12.8 C-0.3,-8.9 1.3,-1.9 7,-1.2 L17.1,-1.9"/><path transform="translate(1518.6,86.5)" d="M1.7,-15 L2.4,0 M2.2,-10 C5,-15 9.4,-16 12.2,-15"/><path transform="translate(1535.4,86.5)" d="M1.5,-6.6 C6.6,-7 13.6,-8.9 15.2,-11.3 C16,-15.2 9.7,-16.3 5.1,-14.4 C0.5,-11.3 0.3,-3.5 5.1,0.5 C9.7,2.8 15.9,0.8 18.3,-0.6"/><path transform="translate(1558.5,86.5)" d="M16.3,-9.7 C12.8,-16.7 3.1,-13.9 1.5,-6.9 C0.3,0 10.1,0.7 15.6,-8.3 L19,-0.5"/><path transform="translate(1582.0,86.5)" d="M7.4,-25.3 C7.4,-12.4 6.6,0.4 11.3,0.6 C15.9,0.6 18,-2.7 18,-5.8 M1.2,-15.9 L18.4,-18.3"/><path transform="translate(1605.2,86.5)" d="M1.5,-6.6 C6.6,-7 13.6,-8.9 15.2,-11.3 C16,-15.2 9.7,-16.3 5.1,-14.4 C0.5,-11.3 0.3,-3.5 5.1,0.5 C9.7,2.8 15.9,0.8 18.3,-0.6"/></g>
<g fill="#1e1e1e"><circle cx="1391.7" cy="83.9" r="3.2"/><circle cx="1489.8" cy="83.9" r="3.2"/></g>
<g fill="none" stroke="#1e1e1e" stroke-width="4.2" stroke-linecap="round" stroke-linejoin="round"><path transform="translate(1361.6,213.0)" d="M1.1,-12.2 L1.7,-0.6 M1.7,-7.8 C6,-13 9.5,-14.5 10.5,-11 L11.4,-1 M11.4,-7.8 C14.5,-13 18,-15 19.5,-12 L21,-0.3"/><path transform="translate(1398.5,213.0)" d="M1.7,-15 L2.4,0 M2.2,-10 C5,-15 9.4,-16 12.2,-15"/><path transform="translate(1415.8,213.0)" d="M2,-7.6 C2,-12.2 5.3,-14.4 9.5,-14.4 C13.9,-14.4 17,-11.8 17,-7.6 C17,-3.4 13.9,-1.1 9.5,-1.1 C5.3,-1.1 2,-3.4 2,-7.6 Z"/><path transform="translate(1439.2,213.0)" d="M2,-7.6 C2,-12.2 5.3,-14.4 9.5,-14.4 C13.9,-14.4 17,-11.8 17,-7.6 C17,-3.4 13.9,-1.1 9.5,-1.1 C5.3,-1.1 2,-3.4 2,-7.6 Z"/><path transform="translate(1462.5,213.0)" d="M1.1,-12.2 L1.7,-0.6 M1.7,-7.8 C6,-13 9.5,-14.5 10.5,-11 L11.4,-1 M11.4,-7.8 C14.5,-13 18,-15 19.5,-12 L21,-0.3"/><path transform="translate(1499.4,213.0)" d="M1.1,-12.2 L1.7,-0.6 M1.7,-7.8 C6,-13 9.5,-14.5 10.5,-11 L11.4,-1 M11.4,-7.8 C14.5,-13 18,-15 19.5,-12 L21,-0.3"/><path transform="translate(1525.3,213.0)" d="M1.5,-6.6 C6.6,-7 13.6,-8.9 15.2,-11.3 C16,-15.2 9.7,-16.3 5.1,-14.4 C0.5,-11.3 0.3,-3.5 5.1,0.5 C9.7,2.8 15.9,0.8 18.3,-0.6"/><path transform="translate(1548.9,213.0)" d="M1.1,-12.2 L1.7,-0.6 M1.7,-7.8 C6,-13 9.5,-14.5 10.5,-11 L11.4,-1 M11.4,-7.8 C14.5,-13 18,-15 19.5,-12 L21,-0.3"/><path transform="translate(1574.9,213.0)" d="M3.8,-28.6 C2.3,-18.7 1.2,-9.9 1.75,-3.5 M2,-5.8 C4.1,-11.7 17,-12.8 16.4,-5.8 C15.8,0 2.9,1.2 1.75,-4.7"/><path transform="translate(1597.2,213.0)" d="M1.5,-6.6 C6.6,-7 13.6,-8.9 15.2,-11.3 C16,-15.2 9.7,-16.3 5.1,-14.4 C0.5,-11.3 0.3,-3.5 5.1,0.5 C9.7,2.8 15.9,0.8 18.3,-0.6"/><path transform="translate(1620.8,213.0)" d="M1.7,-15 L2.4,0 M2.2,-10 C5,-15 9.4,-16 12.2,-15"/></g>
<g fill="#1e1e1e"><circle cx="1390.8" cy="210.4" r="3.2"/><circle cx="1491.7" cy="210.4" r="3.2"/></g>
<g fill="none" stroke="#1e1e1e" stroke-width="4.2" stroke-linecap="round" stroke-linejoin="round"><path transform="translate(1365.6,346.7)" d="M1.1,-12.2 L1.7,-0.6 M1.7,-7.8 C6,-13 9.5,-14.5 10.5,-11 L11.4,-1 M11.4,-7.8 C14.5,-13 18,-15 19.5,-12 L21,-0.3"/><path transform="translate(1401.1,346.7)" d="M1.7,-15 L2.4,0 M2.2,-10 C5,-15 9.4,-16 12.2,-15"/><path transform="translate(1417.7,346.7)" d="M2,-7.6 C2,-12.2 5.3,-14.4 9.5,-14.4 C13.9,-14.4 17,-11.8 17,-7.6 C17,-3.4 13.9,-1.1 9.5,-1.1 C5.3,-1.1 2,-3.4 2,-7.6 Z"/><path transform="translate(1440.3,346.7)" d="M2,-7.6 C2,-12.2 5.3,-14.4 9.5,-14.4 C13.9,-14.4 17,-11.8 17,-7.6 C17,-3.4 13.9,-1.1 9.5,-1.1 C5.3,-1.1 2,-3.4 2,-7.6 Z"/><path transform="translate(1462.9,346.7)" d="M1.1,-12.2 L1.7,-0.6 M1.7,-7.8 C6,-13 9.5,-14.5 10.5,-11 L11.4,-1 M11.4,-7.8 C14.5,-13 18,-15 19.5,-12 L21,-0.3"/><path transform="translate(1498.4,346.7)" d="M1.7,-10.6 C1.8,-2 2.5,8 3.9,14.4 M1.1,-8.3 C6.1,-16.1 18.3,-15 17.8,-7.2 C17.2,-0.6 6.1,0.6 1.7,-2.8"/><path transform="translate(1520.3,346.7)" d="M2,-7.6 C2,-12.2 5.3,-14.4 9.5,-14.4 C13.9,-14.4 17,-11.8 17,-7.6 C17,-3.4 13.9,-1.1 9.5,-1.1 C5.3,-1.1 2,-3.4 2,-7.6 Z"/><path transform="translate(1542.9,346.7)" d="M0.4,-14.7 L3.6,0.4 L8.4,-9.3 L12.4,0 L23.6,-16"/><path transform="translate(1570.8,346.7)" d="M1.5,-6.6 C6.6,-7 13.6,-8.9 15.2,-11.3 C16,-15.2 9.7,-16.3 5.1,-14.4 C0.5,-11.3 0.3,-3.5 5.1,0.5 C9.7,2.8 15.9,0.8 18.3,-0.6"/><path transform="translate(1593.7,346.7)" d="M1.7,-15 L2.4,0 M2.2,-10 C5,-15 9.4,-16 12.2,-15"/><path transform="translate(1610.3,346.7)" d="M0.6,3.1 L24.1,1.3"/><path transform="translate(1638.9,346.7)" d="M2.9,-31.3 L3.3,0"/><path transform="translate(1648.0,346.7)" d="M1.5,-6.6 C6.6,-7 13.6,-8.9 15.2,-11.3 C16,-15.2 9.7,-16.3 5.1,-14.4 C0.5,-11.3 0.3,-3.5 5.1,0.5 C9.7,2.8 15.9,0.8 18.3,-0.6"/><path transform="translate(1670.9,346.7)" d="M0.6,-15.5 L7,0 L17.5,-15"/><path transform="translate(1692.5,346.7)" d="M1.5,-6.6 C6.6,-7 13.6,-8.9 15.2,-11.3 C16,-15.2 9.7,-16.3 5.1,-14.4 C0.5,-11.3 0.3,-3.5 5.1,0.5 C9.7,2.8 15.9,0.8 18.3,-0.6"/><path transform="translate(1715.4,346.7)" d="M2.9,-31.3 L3.3,0"/><path transform="translate(1724.5,346.7)" d="M13.5,-16 C8.7,-17.5 1,-15.3 2,-11.8 C3.1,-8.3 17.8,-6 17.8,-2.4 C17.8,2 7.3,2 2.1,-2.8"/></g>
<g fill="#1e1e1e"><circle cx="1394.1" cy="344.1" r="3.2"/><circle cx="1491.4" cy="344.1" r="3.2"/></g>
<g fill="none" stroke="#1e1e1e" stroke-width="4.2" stroke-linecap="round" stroke-linejoin="round"><path transform="translate(1363.0,472.5)" d="M1.1,-12.2 L1.7,-0.6 M1.7,-7.8 C6,-13 9.5,-14.5 10.5,-11 L11.4,-1 M11.4,-7.8 C14.5,-13 18,-15 19.5,-12 L21,-0.3"/><path transform="translate(1398.8,472.5)" d="M1.7,-15 L2.4,0 M2.2,-10 C5,-15 9.4,-16 12.2,-15"/><path transform="translate(1415.5,472.5)" d="M2,-7.6 C2,-12.2 5.3,-14.4 9.5,-14.4 C13.9,-14.4 17,-11.8 17,-7.6 C17,-3.4 13.9,-1.1 9.5,-1.1 C5.3,-1.1 2,-3.4 2,-7.6 Z"/><path transform="translate(1438.3,472.5)" d="M2,-7.6 C2,-12.2 5.3,-14.4 9.5,-14.4 C13.9,-14.4 17,-11.8 17,-7.6 C17,-3.4 13.9,-1.1 9.5,-1.1 C5.3,-1.1 2,-3.4 2,-7.6 Z"/><path transform="translate(1461.0,472.5)" d="M1.1,-12.2 L1.7,-0.6 M1.7,-7.8 C6,-13 9.5,-14.5 10.5,-11 L11.4,-1 M11.4,-7.8 C14.5,-13 18,-15 19.5,-12 L21,-0.3"/><path transform="translate(1496.8,472.5)" d="M9.4,-11.7 C10.5,0 13.5,8 12.8,11.8 C12,14 5,13 1.5,9"/><path transform="translate(1515.0,472.5)" d="M2,-7.6 C2,-12.2 5.3,-14.4 9.5,-14.4 C13.9,-14.4 17,-11.8 17,-7.6 C17,-3.4 13.9,-1.1 9.5,-1.1 C5.3,-1.1 2,-3.4 2,-7.6 Z"/><path transform="translate(1537.8,472.5)" d="M2.4,-13.3 L3.4,0"/><path transform="translate(1547.1,472.5)" d="M1.8,-14.2 L0.9,-0.9 M1.3,-8.4 C5.3,-14.7 11.6,-17.3 13.3,-12 L15.2,0"/><path transform="translate(1566.9,472.5)" d="M0.6,3.1 L24.1,1.3"/><path transform="translate(1595.7,472.5)" d="M1.7,-15 L2.4,0 M2.2,-10 C5,-15 9.4,-16 12.2,-15"/><path transform="translate(1612.4,472.5)" d="M1.1,-13.9 C0,-4.4 2.8,0 7.2,-1.1 C11.7,-2.2 14.4,-10 14.4,-15.6 L15.2,0"/><path transform="translate(1632.9,472.5)" d="M2.9,-31.3 L3.3,0"/><path transform="translate(1642.1,472.5)" d="M1.5,-6.6 C6.6,-7 13.6,-8.9 15.2,-11.3 C16,-15.2 9.7,-16.3 5.1,-14.4 C0.5,-11.3 0.3,-3.5 5.1,0.5 C9.7,2.8 15.9,0.8 18.3,-0.6"/><path transform="translate(1665.2,472.5)" d="M13.5,-16 C8.7,-17.5 1,-15.3 2,-11.8 C3.1,-8.3 17.8,-6 17.8,-2.4 C17.8,2 7.3,2 2.1,-2.8"/></g>
<g fill="#1e1e1e"><circle cx="1391.6" cy="469.9" r="3.2"/><circle cx="1489.7" cy="469.9" r="3.2"/><circle cx="1504.6" cy="452.5" r="3.2"/><circle cx="1540.2" cy="451.4" r="3.2"/></g>
<g fill="none" stroke="#1e1e1e" stroke-width="4.2" stroke-linecap="round" stroke-linejoin="round"><path transform="translate(1366.0,601.5)" d="M1.1,-12.2 L1.7,-0.6 M1.7,-7.8 C6,-13 9.5,-14.5 10.5,-11 L11.4,-1 M11.4,-7.8 C14.5,-13 18,-15 19.5,-12 L21,-0.3"/><path transform="translate(1402.7,601.5)" d="M1.7,-15 L2.4,0 M2.2,-10 C5,-15 9.4,-16 12.2,-15"/><path transform="translate(1420.0,601.5)" d="M2,-7.6 C2,-12.2 5.3,-14.4 9.5,-14.4 C13.9,-14.4 17,-11.8 17,-7.6 C17,-3.4 13.9,-1.1 9.5,-1.1 C5.3,-1.1 2,-3.4 2,-7.6 Z"/><path transform="translate(1443.2,601.5)" d="M2,-7.6 C2,-12.2 5.3,-14.4 9.5,-14.4 C13.9,-14.4 17,-11.8 17,-7.6 C17,-3.4 13.9,-1.1 9.5,-1.1 C5.3,-1.1 2,-3.4 2,-7.6 Z"/><path transform="translate(1466.4,601.5)" d="M1.1,-12.2 L1.7,-0.6 M1.7,-7.8 C6,-13 9.5,-14.5 10.5,-11 L11.4,-1 M11.4,-7.8 C14.5,-13 18,-15 19.5,-12 L21,-0.3"/><path transform="translate(1503.1,601.5)" d="M1.1,-12.2 L1.7,-0.6 M1.7,-7.8 C6,-13 9.5,-14.5 10.5,-11 L11.4,-1 M11.4,-7.8 C14.5,-13 18,-15 19.5,-12 L21,-0.3"/><path transform="translate(1528.9,601.5)" d="M1.5,-6.6 C6.6,-7 13.6,-8.9 15.2,-11.3 C16,-15.2 9.7,-16.3 5.1,-14.4 C0.5,-11.3 0.3,-3.5 5.1,0.5 C9.7,2.8 15.9,0.8 18.3,-0.6"/><path transform="translate(1552.5,601.5)" d="M1.1,-12.2 L1.7,-0.6 M1.7,-7.8 C6,-13 9.5,-14.5 10.5,-11 L11.4,-1 M11.4,-7.8 C14.5,-13 18,-15 19.5,-12 L21,-0.3"/><path transform="translate(1578.3,601.5)" d="M3.8,-28.6 C2.3,-18.7 1.2,-9.9 1.75,-3.5 M2,-5.8 C4.1,-11.7 17,-12.8 16.4,-5.8 C15.8,0 2.9,1.2 1.75,-4.7"/><path transform="translate(1600.5,601.5)" d="M1.5,-6.6 C6.6,-7 13.6,-8.9 15.2,-11.3 C16,-15.2 9.7,-16.3 5.1,-14.4 C0.5,-11.3 0.3,-3.5 5.1,0.5 C9.7,2.8 15.9,0.8 18.3,-0.6"/><path transform="translate(1624.0,601.5)" d="M1.7,-15 L2.4,0 M2.2,-10 C5,-15 9.4,-16 12.2,-15"/></g>
<g fill="#1e1e1e"><circle cx="1395.1" cy="598.9" r="3.2"/><circle cx="1495.5" cy="598.9" r="3.2"/></g>
<g fill="none" stroke="#1e1e1e" stroke-width="4.2" stroke-linecap="round" stroke-linejoin="round"><path transform="translate(1366.0,724.6)" d="M1.1,-12.2 L1.7,-0.6 M1.7,-7.8 C6,-13 9.5,-14.5 10.5,-11 L11.4,-1 M11.4,-7.8 C14.5,-13 18,-15 19.5,-12 L21,-0.3"/><path transform="translate(1401.7,724.6)" d="M1.7,-15 L2.4,0 M2.2,-10 C5,-15 9.4,-16 12.2,-15"/><path transform="translate(1418.4,724.6)" d="M2,-7.6 C2,-12.2 5.3,-14.4 9.5,-14.4 C13.9,-14.4 17,-11.8 17,-7.6 C17,-3.4 13.9,-1.1 9.5,-1.1 C5.3,-1.1 2,-3.4 2,-7.6 Z"/><path transform="translate(1441.1,724.6)" d="M2,-7.6 C2,-12.2 5.3,-14.4 9.5,-14.4 C13.9,-14.4 17,-11.8 17,-7.6 C17,-3.4 13.9,-1.1 9.5,-1.1 C5.3,-1.1 2,-3.4 2,-7.6 Z"/><path transform="translate(1463.8,724.6)" d="M1.1,-12.2 L1.7,-0.6 M1.7,-7.8 C6,-13 9.5,-14.5 10.5,-11 L11.4,-1 M11.4,-7.8 C14.5,-13 18,-15 19.5,-12 L21,-0.3"/><path transform="translate(1499.5,724.6)" d="M1.1,-12.2 L1.7,-0.6 M1.7,-7.8 C6,-13 9.5,-14.5 10.5,-11 L11.4,-1 M11.4,-7.8 C14.5,-13 18,-15 19.5,-12 L21,-0.3"/><path transform="translate(1524.8,724.6)" d="M1.5,-6.6 C6.6,-7 13.6,-8.9 15.2,-11.3 C16,-15.2 9.7,-16.3 5.1,-14.4 C0.5,-11.3 0.3,-3.5 5.1,0.5 C9.7,2.8 15.9,0.8 18.3,-0.6"/><path transform="translate(1547.8,724.6)" d="M13.5,-16 C8.7,-17.5 1,-15.3 2,-11.8 C3.1,-8.3 17.8,-6 17.8,-2.4 C17.8,2 7.3,2 2.1,-2.8"/><path transform="translate(1571.3,724.6)" d="M13.5,-16 C8.7,-17.5 1,-15.3 2,-11.8 C3.1,-8.3 17.8,-6 17.8,-2.4 C17.8,2 7.3,2 2.1,-2.8"/><path transform="translate(1594.8,724.6)" d="M16.3,-9.7 C12.8,-16.7 3.1,-13.9 1.5,-6.9 C0.3,0 10.1,0.7 15.6,-8.3 L19,-0.5"/><path transform="translate(1618.3,724.6)" d="M13.2,-11.8 C9.7,-16.7 0.7,-12.5 1.4,-6.9 C2.1,-2.1 11.1,-2.8 14.6,-6.9 M17.4,-12.5 C16,-2.8 13.9,8.3 9.7,13.2 C7.6,13.9 4.2,10.4 2.1,8.3"/><path transform="translate(1640.7,724.6)" d="M1.5,-6.6 C6.6,-7 13.6,-8.9 15.2,-11.3 C16,-15.2 9.7,-16.3 5.1,-14.4 C0.5,-11.3 0.3,-3.5 5.1,0.5 C9.7,2.8 15.9,0.8 18.3,-0.6"/></g>
<g fill="#1e1e1e"><circle cx="1394.6" cy="722.0" r="3.2"/><circle cx="1492.4" cy="722.0" r="3.2"/></g>
<g fill="none" stroke="#1e1e1e" stroke-width="4.2" stroke-linecap="round" stroke-linejoin="round"><path transform="translate(1369.0,854.0)" d="M1.1,-12.2 L1.7,-0.6 M1.7,-7.8 C6,-13 9.5,-14.5 10.5,-11 L11.4,-1 M11.4,-7.8 C14.5,-13 18,-15 19.5,-12 L21,-0.3"/><path transform="translate(1404.7,854.0)" d="M1.7,-15 L2.4,0 M2.2,-10 C5,-15 9.4,-16 12.2,-15"/><path transform="translate(1421.4,854.0)" d="M2,-7.6 C2,-12.2 5.3,-14.4 9.5,-14.4 C13.9,-14.4 17,-11.8 17,-7.6 C17,-3.4 13.9,-1.1 9.5,-1.1 C5.3,-1.1 2,-3.4 2,-7.6 Z"/><path transform="translate(1444.1,854.0)" d="M2,-7.6 C2,-12.2 5.3,-14.4 9.5,-14.4 C13.9,-14.4 17,-11.8 17,-7.6 C17,-3.4 13.9,-1.1 9.5,-1.1 C5.3,-1.1 2,-3.4 2,-7.6 Z"/><path transform="translate(1466.8,854.0)" d="M1.1,-12.2 L1.7,-0.6 M1.7,-7.8 C6,-13 9.5,-14.5 10.5,-11 L11.4,-1 M11.4,-7.8 C14.5,-13 18,-15 19.5,-12 L21,-0.3"/><path transform="translate(1502.5,854.0)" d="M1.1,-12.2 L1.7,-0.6 M1.7,-7.8 C6,-13 9.5,-14.5 10.5,-11 L11.4,-1 M11.4,-7.8 C14.5,-13 18,-15 19.5,-12 L21,-0.3"/><path transform="translate(1527.8,854.0)" d="M1.5,-6.6 C6.6,-7 13.6,-8.9 15.2,-11.3 C16,-15.2 9.7,-16.3 5.1,-14.4 C0.5,-11.3 0.3,-3.5 5.1,0.5 C9.7,2.8 15.9,0.8 18.3,-0.6"/><path transform="translate(1550.8,854.0)" d="M13.5,-16 C8.7,-17.5 1,-15.3 2,-11.8 C3.1,-8.3 17.8,-6 17.8,-2.4 C17.8,2 7.3,2 2.1,-2.8"/><path transform="translate(1574.3,854.0)" d="M13.5,-16 C8.7,-17.5 1,-15.3 2,-11.8 C3.1,-8.3 17.8,-6 17.8,-2.4 C17.8,2 7.3,2 2.1,-2.8"/><path transform="translate(1597.8,854.0)" d="M16.3,-9.7 C12.8,-16.7 3.1,-13.9 1.5,-6.9 C0.3,0 10.1,0.7 15.6,-8.3 L19,-0.5"/><path transform="translate(1621.3,854.0)" d="M13.2,-11.8 C9.7,-16.7 0.7,-12.5 1.4,-6.9 C2.1,-2.1 11.1,-2.8 14.6,-6.9 M17.4,-12.5 C16,-2.8 13.9,8.3 9.7,13.2 C7.6,13.9 4.2,10.4 2.1,8.3"/><path transform="translate(1643.7,854.0)" d="M1.5,-6.6 C6.6,-7 13.6,-8.9 15.2,-11.3 C16,-15.2 9.7,-16.3 5.1,-14.4 C0.5,-11.3 0.3,-3.5 5.1,0.5 C9.7,2.8 15.9,0.8 18.3,-0.6"/></g>
<g fill="#1e1e1e"><circle cx="1397.6" cy="851.4" r="3.2"/><circle cx="1495.4" cy="851.4" r="3.2"/></g>
<g fill="none" stroke="#1e1e1e" stroke-width="4.2" stroke-linecap="round" stroke-linejoin="round"><path transform="translate(1122.0,977.0)" d="M1.1,-12.2 L1.7,-0.6 M1.7,-7.8 C6,-13 9.5,-14.5 10.5,-11 L11.4,-1 M11.4,-7.8 C14.5,-13 18,-15 19.5,-12 L21,-0.3"/><path transform="translate(1159.3,977.0)" d="M1.7,-15 L2.4,0 M2.2,-10 C5,-15 9.4,-16 12.2,-15"/><path transform="translate(1176.8,977.0)" d="M2,-7.6 C2,-12.2 5.3,-14.4 9.5,-14.4 C13.9,-14.4 17,-11.8 17,-7.6 C17,-3.4 13.9,-1.1 9.5,-1.1 C5.3,-1.1 2,-3.4 2,-7.6 Z"/><path transform="translate(1200.3,977.0)" d="M2,-7.6 C2,-12.2 5.3,-14.4 9.5,-14.4 C13.9,-14.4 17,-11.8 17,-7.6 C17,-3.4 13.9,-1.1 9.5,-1.1 C5.3,-1.1 2,-3.4 2,-7.6 Z"/><path transform="translate(1223.8,977.0)" d="M1.1,-12.2 L1.7,-0.6 M1.7,-7.8 C6,-13 9.5,-14.5 10.5,-11 L11.4,-1 M11.4,-7.8 C14.5,-13 18,-15 19.5,-12 L21,-0.3"/><path transform="translate(1261.2,977.0)" d="M1.8,-14.2 L0.9,-0.9 M1.3,-8.4 C5.3,-14.7 11.6,-17.3 13.3,-12 L15.2,0"/><path transform="translate(1281.8,977.0)" d="M16.3,-9.7 C12.8,-16.7 3.1,-13.9 1.5,-6.9 C0.3,0 10.1,0.7 15.6,-8.3 L19,-0.5"/><path transform="translate(1306.1,977.0)" d="M1.1,-12.2 L1.7,-0.6 M1.7,-7.8 C6,-13 9.5,-14.5 10.5,-11 L11.4,-1 M11.4,-7.8 C14.5,-13 18,-15 19.5,-12 L21,-0.3"/><path transform="translate(1332.2,977.0)" d="M1.5,-6.6 C6.6,-7 13.6,-8.9 15.2,-11.3 C16,-15.2 9.7,-16.3 5.1,-14.4 C0.5,-11.3 0.3,-3.5 5.1,0.5 C9.7,2.8 15.9,0.8 18.3,-0.6"/></g>
<g fill="#1e1e1e"><circle cx="1151.4" cy="974.4" r="3.2"/><circle cx="1253.3" cy="974.4" r="3.2"/></g>
<g fill="none" stroke="#1e1e1e" stroke-width="4.2" stroke-linecap="round" stroke-linejoin="round"><path transform="translate(1548.7,1094.0)" d="M1.1,-12.2 L1.7,-0.6 M1.7,-7.8 C6,-13 9.5,-14.5 10.5,-11 L11.4,-1 M11.4,-7.8 C14.5,-13 18,-15 19.5,-12 L21,-0.3"/><path transform="translate(1585.6,1094.0)" d="M1.7,-15 L2.4,0 M2.2,-10 C5,-15 9.4,-16 12.2,-15"/><path transform="translate(1602.9,1094.0)" d="M2,-7.6 C2,-12.2 5.3,-14.4 9.5,-14.4 C13.9,-14.4 17,-11.8 17,-7.6 C17,-3.4 13.9,-1.1 9.5,-1.1 C5.3,-1.1 2,-3.4 2,-7.6 Z"/><path transform="translate(1626.2,1094.0)" d="M2,-7.6 C2,-12.2 5.3,-14.4 9.5,-14.4 C13.9,-14.4 17,-11.8 17,-7.6 C17,-3.4 13.9,-1.1 9.5,-1.1 C5.3,-1.1 2,-3.4 2,-7.6 Z"/><path transform="translate(1649.5,1094.0)" d="M1.1,-12.2 L1.7,-0.6 M1.7,-7.8 C6,-13 9.5,-14.5 10.5,-11 L11.4,-1 M11.4,-7.8 C14.5,-13 18,-15 19.5,-12 L21,-0.3"/><path transform="translate(1686.3,1094.0)" d="M1.8,-14.2 L0.9,-0.9 M1.3,-8.4 C5.3,-14.7 11.6,-17.3 13.3,-12 L15.2,0"/><path transform="translate(1706.7,1094.0)" d="M16.3,-9.7 C12.8,-16.7 3.1,-13.9 1.5,-6.9 C0.3,0 10.1,0.7 15.6,-8.3 L19,-0.5"/><path transform="translate(1730.8,1094.0)" d="M1.1,-12.2 L1.7,-0.6 M1.7,-7.8 C6,-13 9.5,-14.5 10.5,-11 L11.4,-1 M11.4,-7.8 C14.5,-13 18,-15 19.5,-12 L21,-0.3"/><path transform="translate(1756.7,1094.0)" d="M1.5,-6.6 C6.6,-7 13.6,-8.9 15.2,-11.3 C16,-15.2 9.7,-16.3 5.1,-14.4 C0.5,-11.3 0.3,-3.5 5.1,0.5 C9.7,2.8 15.9,0.8 18.3,-0.6"/></g>
<g fill="#1e1e1e"><circle cx="1577.9" cy="1091.4" r="3.2"/><circle cx="1678.6" cy="1091.4" r="3.2"/></g>
<g fill="none" stroke="#1e1e1e" stroke-width="4.2" stroke-linecap="round" stroke-linejoin="round"><path transform="translate(1369.0,1237.0)" d="M1.1,-12.2 L1.7,-0.6 M1.7,-7.8 C6,-13 9.5,-14.5 10.5,-11 L11.4,-1 M11.4,-7.8 C14.5,-13 18,-15 19.5,-12 L21,-0.3"/><path transform="translate(1404.8,1237.0)" d="M1.7,-15 L2.4,0 M2.2,-10 C5,-15 9.4,-16 12.2,-15"/><path transform="translate(1421.5,1237.0)" d="M2,-7.6 C2,-12.2 5.3,-14.4 9.5,-14.4 C13.9,-14.4 17,-11.8 17,-7.6 C17,-3.4 13.9,-1.1 9.5,-1.1 C5.3,-1.1 2,-3.4 2,-7.6 Z"/><path transform="translate(1444.2,1237.0)" d="M2,-7.6 C2,-12.2 5.3,-14.4 9.5,-14.4 C13.9,-14.4 17,-11.8 17,-7.6 C17,-3.4 13.9,-1.1 9.5,-1.1 C5.3,-1.1 2,-3.4 2,-7.6 Z"/><path transform="translate(1467.0,1237.0)" d="M1.1,-12.2 L1.7,-0.6 M1.7,-7.8 C6,-13 9.5,-14.5 10.5,-11 L11.4,-1 M11.4,-7.8 C14.5,-13 18,-15 19.5,-12 L21,-0.3"/><path transform="translate(1502.7,1237.0)" d="M1.1,-12.2 L1.7,-0.6 M1.7,-7.8 C6,-13 9.5,-14.5 10.5,-11 L11.4,-1 M11.4,-7.8 C14.5,-13 18,-15 19.5,-12 L21,-0.3"/><path transform="translate(1528.1,1237.0)" d="M1.5,-6.6 C6.6,-7 13.6,-8.9 15.2,-11.3 C16,-15.2 9.7,-16.3 5.1,-14.4 C0.5,-11.3 0.3,-3.5 5.1,0.5 C9.7,2.8 15.9,0.8 18.3,-0.6"/><path transform="translate(1551.1,1237.0)" d="M13.5,-16 C8.7,-17.5 1,-15.3 2,-11.8 C3.1,-8.3 17.8,-6 17.8,-2.4 C17.8,2 7.3,2 2.1,-2.8"/><path transform="translate(1574.6,1237.0)" d="M13.5,-16 C8.7,-17.5 1,-15.3 2,-11.8 C3.1,-8.3 17.8,-6 17.8,-2.4 C17.8,2 7.3,2 2.1,-2.8"/><path transform="translate(1598.2,1237.0)" d="M16.3,-9.7 C12.8,-16.7 3.1,-13.9 1.5,-6.9 C0.3,0 10.1,0.7 15.6,-8.3 L19,-0.5"/><path transform="translate(1621.7,1237.0)" d="M13.2,-11.8 C9.7,-16.7 0.7,-12.5 1.4,-6.9 C2.1,-2.1 11.1,-2.8 14.6,-6.9 M17.4,-12.5 C16,-2.8 13.9,8.3 9.7,13.2 C7.6,13.9 4.2,10.4 2.1,8.3"/><path transform="translate(1644.2,1237.0)" d="M1.5,-6.6 C6.6,-7 13.6,-8.9 15.2,-11.3 C16,-15.2 9.7,-16.3 5.1,-14.4 C0.5,-11.3 0.3,-3.5 5.1,0.5 C9.7,2.8 15.9,0.8 18.3,-0.6"/></g>
<g fill="#1e1e1e"><circle cx="1397.6" cy="1234.4" r="3.2"/><circle cx="1495.6" cy="1234.4" r="3.2"/></g>
<g fill="none" stroke="#1e1e1e" stroke-width="4.2" stroke-linecap="round" stroke-linejoin="round"><path transform="translate(1368.0,1370.0)" d="M1.1,-12.2 L1.7,-0.6 M1.7,-7.8 C6,-13 9.5,-14.5 10.5,-11 L11.4,-1 M11.4,-7.8 C14.5,-13 18,-15 19.5,-12 L21,-0.3"/><path transform="translate(1403.7,1370.0)" d="M1.7,-15 L2.4,0 M2.2,-10 C5,-15 9.4,-16 12.2,-15"/><path transform="translate(1420.4,1370.0)" d="M2,-7.6 C2,-12.2 5.3,-14.4 9.5,-14.4 C13.9,-14.4 17,-11.8 17,-7.6 C17,-3.4 13.9,-1.1 9.5,-1.1 C5.3,-1.1 2,-3.4 2,-7.6 Z"/><path transform="translate(1443.1,1370.0)" d="M2,-7.6 C2,-12.2 5.3,-14.4 9.5,-14.4 C13.9,-14.4 17,-11.8 17,-7.6 C17,-3.4 13.9,-1.1 9.5,-1.1 C5.3,-1.1 2,-3.4 2,-7.6 Z"/><path transform="translate(1465.8,1370.0)" d="M1.1,-12.2 L1.7,-0.6 M1.7,-7.8 C6,-13 9.5,-14.5 10.5,-11 L11.4,-1 M11.4,-7.8 C14.5,-13 18,-15 19.5,-12 L21,-0.3"/><path transform="translate(1501.5,1370.0)" d="M1.1,-12.2 L1.7,-0.6 M1.7,-7.8 C6,-13 9.5,-14.5 10.5,-11 L11.4,-1 M11.4,-7.8 C14.5,-13 18,-15 19.5,-12 L21,-0.3"/><path transform="translate(1526.8,1370.0)" d="M1.5,-6.6 C6.6,-7 13.6,-8.9 15.2,-11.3 C16,-15.2 9.7,-16.3 5.1,-14.4 C0.5,-11.3 0.3,-3.5 5.1,0.5 C9.7,2.8 15.9,0.8 18.3,-0.6"/><path transform="translate(1549.8,1370.0)" d="M13.5,-16 C8.7,-17.5 1,-15.3 2,-11.8 C3.1,-8.3 17.8,-6 17.8,-2.4 C17.8,2 7.3,2 2.1,-2.8"/><path transform="translate(1573.3,1370.0)" d="M13.5,-16 C8.7,-17.5 1,-15.3 2,-11.8 C3.1,-8.3 17.8,-6 17.8,-2.4 C17.8,2 7.3,2 2.1,-2.8"/><path transform="translate(1596.8,1370.0)" d="M16.3,-9.7 C12.8,-16.7 3.1,-13.9 1.5,-6.9 C0.3,0 10.1,0.7 15.6,-8.3 L19,-0.5"/><path transform="translate(1620.3,1370.0)" d="M13.2,-11.8 C9.7,-16.7 0.7,-12.5 1.4,-6.9 C2.1,-2.1 11.1,-2.8 14.6,-6.9 M17.4,-12.5 C16,-2.8 13.9,8.3 9.7,13.2 C7.6,13.9 4.2,10.4 2.1,8.3"/><path transform="translate(1642.7,1370.0)" d="M1.5,-6.6 C6.6,-7 13.6,-8.9 15.2,-11.3 C16,-15.2 9.7,-16.3 5.1,-14.4 C0.5,-11.3 0.3,-3.5 5.1,0.5 C9.7,2.8 15.9,0.8 18.3,-0.6"/></g>
<g fill="#1e1e1e"><circle cx="1396.6" cy="1367.4" r="3.2"/><circle cx="1494.4" cy="1367.4" r="3.2"/></g>
<g fill="none" stroke="#1e1e1e" stroke-width="4.2" stroke-linecap="round" stroke-linejoin="round"><path transform="translate(1368.0,1510.0)" d="M1.1,-12.2 L1.7,-0.6 M1.7,-7.8 C6,-13 9.5,-14.5 10.5,-11 L11.4,-1 M11.4,-7.8 C14.5,-13 18,-15 19.5,-12 L21,-0.3"/><path transform="translate(1404.9,1510.0)" d="M1.7,-15 L2.4,0 M2.2,-10 C5,-15 9.4,-16 12.2,-15"/><path transform="translate(1422.2,1510.0)" d="M2,-7.6 C2,-12.2 5.3,-14.4 9.5,-14.4 C13.9,-14.4 17,-11.8 17,-7.6 C17,-3.4 13.9,-1.1 9.5,-1.1 C5.3,-1.1 2,-3.4 2,-7.6 Z"/><path transform="translate(1445.5,1510.0)" d="M2,-7.6 C2,-12.2 5.3,-14.4 9.5,-14.4 C13.9,-14.4 17,-11.8 17,-7.6 C17,-3.4 13.9,-1.1 9.5,-1.1 C5.3,-1.1 2,-3.4 2,-7.6 Z"/><path transform="translate(1468.8,1510.0)" d="M1.1,-12.2 L1.7,-0.6 M1.7,-7.8 C6,-13 9.5,-14.5 10.5,-11 L11.4,-1 M11.4,-7.8 C14.5,-13 18,-15 19.5,-12 L21,-0.3"/><path transform="translate(1505.6,1510.0)" d="M7.4,-25.3 C7.4,-12.4 6.6,0.4 11.3,0.6 C15.9,0.6 18,-2.7 18,-5.8 M1.2,-15.9 L18.4,-18.3"/><path transform="translate(1529.3,1510.0)" d="M2,-7.6 C2,-12.2 5.3,-14.4 9.5,-14.4 C13.9,-14.4 17,-11.8 17,-7.6 C17,-3.4 13.9,-1.1 9.5,-1.1 C5.3,-1.1 2,-3.4 2,-7.6 Z"/><path transform="translate(1552.6,1510.0)" d="M1.7,-10.6 C1.8,-2 2.5,8 3.9,14.4 M1.1,-8.3 C6.1,-16.1 18.3,-15 17.8,-7.2 C17.2,-0.6 6.1,0.6 1.7,-2.8"/><path transform="translate(1575.2,1510.0)" d="M2.4,-13.3 L3.4,0"/><path transform="translate(1585.1,1510.0)" d="M14.4,-10.5 C13.2,-15.2 7,-16.7 3.1,-12.8 C-0.3,-8.9 1.3,-1.9 7,-1.2 L17.1,-1.9"/></g>
<g fill="#1e1e1e"><circle cx="1397.2" cy="1507.4" r="3.2"/><circle cx="1497.9" cy="1507.4" r="3.2"/><circle cx="1577.6" cy="1488.9" r="3.2"/></g>
<g fill="none" stroke="#1e1e1e" stroke-width="4.2" stroke-linecap="round" stroke-linejoin="round"><path transform="translate(1368.0,1651.0)" d="M1.1,-12.2 L1.7,-0.6 M1.7,-7.8 C6,-13 9.5,-14.5 10.5,-11 L11.4,-1 M11.4,-7.8 C14.5,-13 18,-15 19.5,-12 L21,-0.3"/><path transform="translate(1404.9,1651.0)" d="M1.7,-15 L2.4,0 M2.2,-10 C5,-15 9.4,-16 12.2,-15"/><path transform="translate(1422.2,1651.0)" d="M2,-7.6 C2,-12.2 5.3,-14.4 9.5,-14.4 C13.9,-14.4 17,-11.8 17,-7.6 C17,-3.4 13.9,-1.1 9.5,-1.1 C5.3,-1.1 2,-3.4 2,-7.6 Z"/><path transform="translate(1445.5,1651.0)" d="M2,-7.6 C2,-12.2 5.3,-14.4 9.5,-14.4 C13.9,-14.4 17,-11.8 17,-7.6 C17,-3.4 13.9,-1.1 9.5,-1.1 C5.3,-1.1 2,-3.4 2,-7.6 Z"/><path transform="translate(1468.8,1651.0)" d="M1.1,-12.2 L1.7,-0.6 M1.7,-7.8 C6,-13 9.5,-14.5 10.5,-11 L11.4,-1 M11.4,-7.8 C14.5,-13 18,-15 19.5,-12 L21,-0.3"/><path transform="translate(1505.6,1651.0)" d="M7.4,-25.3 C7.4,-12.4 6.6,0.4 11.3,0.6 C15.9,0.6 18,-2.7 18,-5.8 M1.2,-15.9 L18.4,-18.3"/><path transform="translate(1529.3,1651.0)" d="M2,-7.6 C2,-12.2 5.3,-14.4 9.5,-14.4 C13.9,-14.4 17,-11.8 17,-7.6 C17,-3.4 13.9,-1.1 9.5,-1.1 C5.3,-1.1 2,-3.4 2,-7.6 Z"/><path transform="translate(1552.6,1651.0)" d="M1.7,-10.6 C1.8,-2 2.5,8 3.9,14.4 M1.1,-8.3 C6.1,-16.1 18.3,-15 17.8,-7.2 C17.2,-0.6 6.1,0.6 1.7,-2.8"/><path transform="translate(1575.2,1651.0)" d="M2.4,-13.3 L3.4,0"/><path transform="translate(1585.1,1651.0)" d="M14.4,-10.5 C13.2,-15.2 7,-16.7 3.1,-12.8 C-0.3,-8.9 1.3,-1.9 7,-1.2 L17.1,-1.9"/></g>
<g fill="#1e1e1e"><circle cx="1397.2" cy="1648.4" r="3.2"/><circle cx="1497.9" cy="1648.4" r="3.2"/><circle cx="1577.6" cy="1629.9" r="3.2"/></g>
<line x1="382.0" y1="162.0" x2="382.0" y2="131.0" stroke="#787878" stroke-width="3.2" stroke-linecap="round" />
<line x1="382.0" y1="131.0" x2="376.4" y2="146.0" stroke="#787878" stroke-width="3.2" stroke-linecap="round"/>
<line x1="382.0" y1="131.0" x2="387.6" y2="146.0" stroke="#787878" stroke-width="3.2" stroke-linecap="round"/>
<line x1="424.0" y1="294.0" x2="424.0" y2="262.0" stroke="#787878" stroke-width="3.2" stroke-linecap="round" />
<line x1="424.0" y1="262.0" x2="418.4" y2="277.0" stroke="#787878" stroke-width="3.2" stroke-linecap="round"/>
<line x1="424.0" y1="262.0" x2="429.6" y2="277.0" stroke="#787878" stroke-width="3.2" stroke-linecap="round"/>
<line x1="469.0" y1="430.0" x2="469.0" y2="393.0" stroke="#787878" stroke-width="3.2" stroke-linecap="round" />
<line x1="469.0" y1="393.0" x2="463.4" y2="408.0" stroke="#787878" stroke-width="3.2" stroke-linecap="round"/>
<line x1="469.0" y1="393.0" x2="474.6" y2="408.0" stroke="#787878" stroke-width="3.2" stroke-linecap="round"/>
<line x1="504.0" y1="563.0" x2="504.0" y2="528.0" stroke="#787878" stroke-width="3.2" stroke-linecap="round" />
<line x1="504.0" y1="528.0" x2="498.4" y2="543.0" stroke="#787878" stroke-width="3.2" stroke-linecap="round"/>
<line x1="504.0" y1="528.0" x2="509.6" y2="543.0" stroke="#787878" stroke-width="3.2" stroke-linecap="round"/>
<line x1="500.0" y1="914.0" x2="504.0" y2="660.0" stroke="#787878" stroke-width="3.2" stroke-linecap="round" />
<line x1="504.0" y1="660.0" x2="498.1" y2="674.9" stroke="#787878" stroke-width="3.2" stroke-linecap="round"/>
<line x1="504.0" y1="660.0" x2="509.4" y2="675.1" stroke="#787878" stroke-width="3.2" stroke-linecap="round"/>
<line x1="578.0" y1="1051.0" x2="577.0" y2="660.0" stroke="#787878" stroke-width="3.2" stroke-linecap="round" />
<line x1="577.0" y1="660.0" x2="571.4" y2="675.0" stroke="#787878" stroke-width="3.2" stroke-linecap="round"/>
<line x1="577.0" y1="660.0" x2="582.7" y2="675.0" stroke="#787878" stroke-width="3.2" stroke-linecap="round"/>
<line x1="600.0" y1="1595.0" x2="600.0" y2="1558.0" stroke="#787878" stroke-width="3.2" stroke-linecap="round" />
<line x1="600.0" y1="1558.0" x2="594.4" y2="1573.0" stroke="#787878" stroke-width="3.2" stroke-linecap="round"/>
<line x1="600.0" y1="1558.0" x2="605.6" y2="1573.0" stroke="#787878" stroke-width="3.2" stroke-linecap="round"/>
<rect x="339.2" y="32.8" width="90.5" height="95.0" rx="18" fill="#ffffff" stroke="#787878" stroke-width="4.5" />
<rect x="339.8" y="163.2" width="163.0" height="96.5" rx="18" fill="#ffffff" stroke="#787878" stroke-width="4.5" />
<rect x="345.2" y="294.8" width="231.5" height="96.0" rx="18" fill="#ffffff" stroke="#787878" stroke-width="4.5" />
<rect x="347.2" y="431.2" width="308.0" height="94.0" rx="18" fill="#ffffff" stroke="#787878" stroke-width="4.5" />
<rect x="351.2" y="564.8" width="381.5" height="93.0" rx="18" fill="#ffffff" stroke="#787878" stroke-width="4.5" />
<rect x="346.0" y="915.2" width="462.8" height="91.5" rx="18" fill="#ffffff" stroke="#787878" stroke-width="4.5" />
<rect x="345.2" y="1052.8" width="463.5" height="93.0" rx="18" fill="#ffffff" stroke="#787878" stroke-width="4.5" />
<rect x="341.6" y="1459.0" width="534.2" height="95.5" rx="18" fill="#ffffff" stroke="#787878" stroke-width="4.5" />
<rect x="341.2" y="1596.2" width="535.5" height="94.5" rx="18" fill="#ffffff" stroke="#787878" stroke-width="4.5" />
<line x1="577.6" y1="913" x2="577.8" y2="1009" stroke="#c9c9c9" stroke-width="2.5"/>
<g>
<rect x="356.1" y="45.1" width="54.8" height="69.8" rx="13" fill="#a5d8ff" stroke="#1e1e1e" stroke-width="4.2" />
<path transform="translate(383.5,80.0)" d="M-12.5,10.7 C-6,5 3,-6 7.9,-17.4 L8.2,11 M-4.1,4.4 L11.7,2.3" fill="none" stroke="#1e1e1e" stroke-width="3.8" stroke-linecap="round" stroke-linejoin="round"/>
</g>
<g>
<rect x="355.1" y="176.1" width="55.3" height="69.8" rx="13" fill="#a5d8ff" fill-opacity="0.3" stroke="#1e1e1e" stroke-opacity="0.3" stroke-width="4.2"/>
<path transform="translate(382.8,211.0)" d="M-12.5,10.7 C-6,5 3,-6 7.9,-17.4 L8.2,11 M-4.1,4.4 L11.7,2.3" fill="none" stroke="#a9b3bb" stroke-width="3.8" stroke-linecap="round" stroke-linejoin="round"/>
</g>
<g>
<rect x="433.1" y="178.1" width="53.8" height="69.8" rx="13" fill="#a5d8ff" stroke="#1e1e1e" stroke-width="4.2" />
<path transform="translate(460.0,213.0)" d="M-11.5,-19.3 C0,-19 11,-15.5 10.9,-10.5 C10.5,-5 2,-3.5 -4.5,-3.3 C6,-2.5 12.5,1 12.1,6 C11.5,11 2,12.5 -12.8,9.5 M-6.4,-17.4 L-4.5,8.8" fill="none" stroke="#1e1e1e" stroke-width="3.8" stroke-linecap="round" stroke-linejoin="round"/>
</g>
<g>
<rect x="362.1" y="308.1" width="53.3" height="69.8" rx="13" fill="#a5d8ff" fill-opacity="0.3" stroke="#1e1e1e" stroke-opacity="0.3" stroke-width="4.2"/>
<path transform="translate(388.8,343.0)" d="M-12.5,10.7 C-6,5 3,-6 7.9,-17.4 L8.2,11 M-4.1,4.4 L11.7,2.3" fill="none" stroke="#a9b3bb" stroke-width="3.8" stroke-linecap="round" stroke-linejoin="round"/>
</g>
<g>
<rect x="437.1" y="308.1" width="53.3" height="69.8" rx="13" fill="#a5d8ff" fill-opacity="0.3" stroke="#1e1e1e" stroke-opacity="0.3" stroke-width="4.2"/>
<path transform="translate(463.8,343.0)" d="M-11.5,-19.3 C0,-19 11,-15.5 10.9,-10.5 C10.5,-5 2,-3.5 -4.5,-3.3 C6,-2.5 12.5,1 12.1,6 C11.5,11 2,12.5 -12.8,9.5 M-6.4,-17.4 L-4.5,8.8" fill="none" stroke="#a9b3bb" stroke-width="3.8" stroke-linecap="round" stroke-linejoin="round"/>
</g>
<g>
<rect x="512.1" y="308.1" width="54.8" height="69.8" rx="13" fill="#a5d8ff" stroke="#1e1e1e" stroke-width="4.2" />
<path transform="translate(539.5,343.0)" d="M9.4,-5.2 C9.6,-9 8,-14.8 5.5,-14.8 C-3,-13.5 -10,-7.5 -9.8,-1.5 C-9.5,5.5 -4,9.8 1,9.7 C5,9.6 8,8.5 10,7.5" fill="none" stroke="#1e1e1e" stroke-width="3.8" stroke-linecap="round" stroke-linejoin="round"/>
</g>
<g>
<rect x="363.1" y="444.6" width="53.8" height="68.3" rx="13" fill="#a5d8ff" fill-opacity="0.3" stroke="#1e1e1e" stroke-opacity="0.3" stroke-width="4.2"/>
<path transform="translate(390.0,478.8)" d="M-12.5,10.7 C-6,5 3,-6 7.9,-17.4 L8.2,11 M-4.1,4.4 L11.7,2.3" fill="none" stroke="#a9b3bb" stroke-width="3.8" stroke-linecap="round" stroke-linejoin="round"/>
</g>
<g>
<rect x="438.1" y="444.6" width="53.8" height="68.3" rx="13" fill="#a5d8ff" fill-opacity="0.3" stroke="#1e1e1e" stroke-opacity="0.3" stroke-width="4.2"/>
<path transform="translate(465.0,478.8)" d="M-11.5,-19.3 C0,-19 11,-15.5 10.9,-10.5 C10.5,-5 2,-3.5 -4.5,-3.3 C6,-2.5 12.5,1 12.1,6 C11.5,11 2,12.5 -12.8,9.5 M-6.4,-17.4 L-4.5,8.8" fill="none" stroke="#a9b3bb" stroke-width="3.8" stroke-linecap="round" stroke-linejoin="round"/>
</g>
<g>
<rect x="513.1" y="444.6" width="53.8" height="68.3" rx="13" fill="#a5d8ff" fill-opacity="0.3" stroke="#1e1e1e" stroke-opacity="0.3" stroke-width="4.2"/>
<path transform="translate(540.0,478.8)" d="M9.4,-5.2 C9.6,-9 8,-14.8 5.5,-14.8 C-3,-13.5 -10,-7.5 -9.8,-1.5 C-9.5,5.5 -4,9.8 1,9.7 C5,9.6 8,8.5 10,7.5" fill="none" stroke="#a9b3bb" stroke-width="3.8" stroke-linecap="round" stroke-linejoin="round"/>
</g>
<g>
<rect x="588.1" y="444.6" width="53.8" height="68.3" rx="13" fill="#a5d8ff" stroke="#1e1e1e" stroke-width="4.2" />
<path transform="translate(615.0,478.8)" d="M-14.1,-17.4 C-2,-14 12,-7 12.1,-1.4 C12,5 0,9 -13.5,10.1 M-8.4,-14.8 L-5.8,6.9" fill="none" stroke="#1e1e1e" stroke-width="3.8" stroke-linecap="round" stroke-linejoin="round"/>
</g>
<g>
<rect x="364.6" y="578.1" width="53.3" height="69.8" rx="13" fill="#a5d8ff" fill-opacity="0.3" stroke="#1e1e1e" stroke-opacity="0.3" stroke-width="4.2"/>
<path transform="translate(391.2,613.0)" d="M-12.5,10.7 C-6,5 3,-6 7.9,-17.4 L8.2,11 M-4.1,4.4 L11.7,2.3" fill="none" stroke="#a9b3bb" stroke-width="3.8" stroke-linecap="round" stroke-linejoin="round"/>
</g>
<g>
<rect x="441.1" y="578.1" width="53.8" height="69.8" rx="13" fill="#a5d8ff" fill-opacity="0.3" stroke="#1e1e1e" stroke-opacity="0.3" stroke-width="4.2"/>
<path transform="translate(468.0,613.0)" d="M-11.5,-19.3 C0,-19 11,-15.5 10.9,-10.5 C10.5,-5 2,-3.5 -4.5,-3.3 C6,-2.5 12.5,1 12.1,6 C11.5,11 2,12.5 -12.8,9.5 M-6.4,-17.4 L-4.5,8.8" fill="none" stroke="#a9b3bb" stroke-width="3.8" stroke-linecap="round" stroke-linejoin="round"/>
</g>
<g>
<rect x="516.1" y="578.1" width="53.8" height="69.8" rx="13" fill="#a5d8ff" fill-opacity="0.3" stroke="#1e1e1e" stroke-opacity="0.3" stroke-width="4.2"/>
<path transform="translate(543.0,613.0)" d="M9.4,-5.2 C9.6,-9 8,-14.8 5.5,-14.8 C-3,-13.5 -10,-7.5 -9.8,-1.5 C-9.5,5.5 -4,9.8 1,9.7 C5,9.6 8,8.5 10,7.5" fill="none" stroke="#a9b3bb" stroke-width="3.8" stroke-linecap="round" stroke-linejoin="round"/>
</g>
<g>
<rect x="592.1" y="578.1" width="52.8" height="69.8" rx="13" fill="#a5d8ff" fill-opacity="0.3" stroke="#1e1e1e" stroke-opacity="0.3" stroke-width="4.2"/>
<path transform="translate(618.5,613.0)" d="M-14.1,-17.4 C-2,-14 12,-7 12.1,-1.4 C12,5 0,9 -13.5,10.1 M-8.4,-14.8 L-5.8,6.9" fill="none" stroke="#a9b3bb" stroke-width="3.8" stroke-linecap="round" stroke-linejoin="round"/>
</g>
<g>
<rect x="667.1" y="578.1" width="51.8" height="69.8" rx="13" fill="#ffec99" stroke="#1e1e1e" stroke-width="4.2" />
<path transform="translate(693.0,613.0)" d="M9.9,-11 L9.3,-13.2 C3,-12.5 -4,-12 -10.5,-11.6 L-10.5,9.5 C-3,8 4,7 11.2,6.5 M-8.6,-1.4 L11.2,-3.3" fill="none" stroke="#1e1e1e" stroke-width="3.8" stroke-linecap="round" stroke-linejoin="round"/>
</g>
<g>
<rect x="362.6" y="928.8" width="50.9" height="67.6" rx="13" fill="#a5d8ff" fill-opacity="0.3" stroke="#1e1e1e" stroke-opacity="0.3" stroke-width="4.2"/>
<path transform="translate(388.1,962.6)" d="M-12.5,10.7 C-6,5 3,-6 7.9,-17.4 L8.2,11 M-4.1,4.4 L11.7,2.3" fill="none" stroke="#a9b3bb" stroke-width="3.8" stroke-linecap="round" stroke-linejoin="round"/>
</g>
<g>
<rect x="437.6" y="928.8" width="50.8" height="67.6" rx="13" fill="#a5d8ff" fill-opacity="0.3" stroke="#1e1e1e" stroke-opacity="0.3" stroke-width="4.2"/>
<path transform="translate(463.0,962.6)" d="M-11.5,-19.3 C0,-19 11,-15.5 10.9,-10.5 C10.5,-5 2,-3.5 -4.5,-3.3 C6,-2.5 12.5,1 12.1,6 C11.5,11 2,12.5 -12.8,9.5 M-6.4,-17.4 L-4.5,8.8" fill="none" stroke="#a9b3bb" stroke-width="3.8" stroke-linecap="round" stroke-linejoin="round"/>
</g>
<g>
<rect x="512.1" y="928.8" width="52.8" height="67.6" rx="13" fill="#a5d8ff" fill-opacity="0.3" stroke="#1e1e1e" stroke-opacity="0.3" stroke-width="4.2"/>
<path transform="translate(538.5,962.6)" d="M9.4,-5.2 C9.6,-9 8,-14.8 5.5,-14.8 C-3,-13.5 -10,-7.5 -9.8,-1.5 C-9.5,5.5 -4,9.8 1,9.7 C5,9.6 8,8.5 10,7.5" fill="none" stroke="#a9b3bb" stroke-width="3.8" stroke-linecap="round" stroke-linejoin="round"/>
</g>
<g>
<rect x="587.1" y="928.8" width="52.8" height="67.6" rx="13" fill="#a5d8ff" fill-opacity="0.3" stroke="#1e1e1e" stroke-opacity="0.3" stroke-width="4.2"/>
<path transform="translate(613.5,962.6)" d="M-14.1,-17.4 C-2,-14 12,-7 12.1,-1.4 C12,5 0,9 -13.5,10.1 M-8.4,-14.8 L-5.8,6.9" fill="none" stroke="#a9b3bb" stroke-width="3.8" stroke-linecap="round" stroke-linejoin="round"/>
</g>
<g>
<rect x="663.6" y="928.8" width="52.3" height="67.6" rx="13" fill="#ffec99" fill-opacity="0.3" stroke="#1e1e1e" stroke-opacity="0.3" stroke-width="4.2"/>
<path transform="translate(689.8,962.6)" d="M9.9,-11 L9.3,-13.2 C3,-12.5 -4,-12 -10.5,-11.6 L-10.5,9.5 C-3,8 4,7 11.2,6.5 M-8.6,-1.4 L11.2,-3.3" fill="none" stroke="#bbb8aa" stroke-width="3.8" stroke-linecap="round" stroke-linejoin="round"/>
</g>
<g>
<rect x="738.6" y="928.8" width="52.3" height="67.6" rx="13" fill="#a5d8ff" stroke="#1e1e1e" stroke-width="4.2" />
<path transform="translate(764.8,962.6)" d="M-6.3,-13.3 L-7.5,9.1 M7.7,-14.3 C6,-5 5,3 5.7,12.6 M-8.8,1.7 L5.7,0.7" fill="none" stroke="#1e1e1e" stroke-width="3.8" stroke-linecap="round" stroke-linejoin="round"/>
</g>
<g>
<rect x="359.6" y="1067.9" width="50.8" height="66.0" rx="13" fill="#a5d8ff" fill-opacity="0.3" stroke="#1e1e1e" stroke-opacity="0.3" stroke-width="4.2"/>
<path transform="translate(385.0,1100.9)" d="M-12.5,10.7 C-6,5 3,-6 7.9,-17.4 L8.2,11 M-4.1,4.4 L11.7,2.3" fill="none" stroke="#a9b3bb" stroke-width="3.8" stroke-linecap="round" stroke-linejoin="round"/>
</g>
<g>
<rect x="434.1" y="1067.9" width="51.8" height="66.0" rx="13" fill="#a5d8ff" fill-opacity="0.3" stroke="#1e1e1e" stroke-opacity="0.3" stroke-width="4.2"/>
<path transform="translate(460.0,1100.9)" d="M-11.5,-19.3 C0,-19 11,-15.5 10.9,-10.5 C10.5,-5 2,-3.5 -4.5,-3.3 C6,-2.5 12.5,1 12.1,6 C11.5,11 2,12.5 -12.8,9.5 M-6.4,-17.4 L-4.5,8.8" fill="none" stroke="#a9b3bb" stroke-width="3.8" stroke-linecap="round" stroke-linejoin="round"/>
</g>
<g>
<rect x="509.1" y="1067.9" width="51.8" height="66.0" rx="13" fill="#a5d8ff" fill-opacity="0.3" stroke="#1e1e1e" stroke-opacity="0.3" stroke-width="4.2"/>
<path transform="translate(535.0,1100.9)" d="M9.4,-5.2 C9.6,-9 8,-14.8 5.5,-14.8 C-3,-13.5 -10,-7.5 -9.8,-1.5 C-9.5,5.5 -4,9.8 1,9.7 C5,9.6 8,8.5 10,7.5" fill="none" stroke="#a9b3bb" stroke-width="3.8" stroke-linecap="round" stroke-linejoin="round"/>
</g>
<g>
<rect x="585.7" y="1067.9" width="50.2" height="66.0" rx="13" fill="#a5d8ff" fill-opacity="0.3" stroke="#1e1e1e" stroke-opacity="0.3" stroke-width="4.2"/>
<path transform="translate(610.8,1100.9)" d="M-14.1,-17.4 C-2,-14 12,-7 12.1,-1.4 C12,5 0,9 -13.5,10.1 M-8.4,-14.8 L-5.8,6.9" fill="none" stroke="#a9b3bb" stroke-width="3.8" stroke-linecap="round" stroke-linejoin="round"/>
</g>
<g>
<rect x="660.8" y="1067.9" width="51.1" height="66.0" rx="13" fill="#ffec99" fill-opacity="0.3" stroke="#1e1e1e" stroke-opacity="0.3" stroke-width="4.2"/>
<path transform="translate(686.4,1100.9)" d="M9.9,-11 L9.3,-13.2 C3,-12.5 -4,-12 -10.5,-11.6 L-10.5,9.5 C-3,8 4,7 11.2,6.5 M-8.6,-1.4 L11.2,-3.3" fill="none" stroke="#bbb8aa" stroke-width="3.8" stroke-linecap="round" stroke-linejoin="round"/>
</g>
<g>
<rect x="735.6" y="1067.9" width="52.3" height="66.0" rx="13" fill="#ffec99" stroke="#1e1e1e" stroke-width="4.2" />
<path transform="translate(761.8,1100.9)" d="M-7.6,-12.3 L9,-13.5 M0,-12.3 L-1.9,8.8 M-8.3,10.1 L8.3,7.5" fill="none" stroke="#1e1e1e" stroke-width="3.8" stroke-linecap="round" stroke-linejoin="round"/>
</g>
<g>
<rect x="358.1" y="1472.8" width="51.5" height="69.1" rx="13" fill="#a5d8ff" stroke="#1e1e1e" stroke-width="4.2" />
<path transform="translate(383.9,1507.3)" d="M-12.5,10.7 C-6,5 3,-6 7.9,-17.4 L8.2,11 M-4.1,4.4 L11.7,2.3" fill="none" stroke="#1e1e1e" stroke-width="3.8" stroke-linecap="round" stroke-linejoin="round"/>
</g>
<g>
<rect x="432.1" y="1472.8" width="52.5" height="69.1" rx="13" fill="#a5d8ff" stroke="#1e1e1e" stroke-width="4.2" />
<path transform="translate(458.4,1507.3)" d="M-11.5,-19.3 C0,-19 11,-15.5 10.9,-10.5 C10.5,-5 2,-3.5 -4.5,-3.3 C6,-2.5 12.5,1 12.1,6 C11.5,11 2,12.5 -12.8,9.5 M-6.4,-17.4 L-4.5,8.8" fill="none" stroke="#1e1e1e" stroke-width="3.8" stroke-linecap="round" stroke-linejoin="round"/>
</g>
<g>
<rect x="507.1" y="1472.8" width="53.8" height="69.1" rx="13" fill="#a5d8ff" stroke="#1e1e1e" stroke-width="4.2" />
<path transform="translate(534.0,1507.3)" d="M9.4,-5.2 C9.6,-9 8,-14.8 5.5,-14.8 C-3,-13.5 -10,-7.5 -9.8,-1.5 C-9.5,5.5 -4,9.8 1,9.7 C5,9.6 8,8.5 10,7.5" fill="none" stroke="#1e1e1e" stroke-width="3.8" stroke-linecap="round" stroke-linejoin="round"/>
</g>
<g>
<rect x="583.8" y="1472.8" width="52.1" height="69.1" rx="13" fill="#a5d8ff" stroke="#1e1e1e" stroke-width="4.2" />
<path transform="translate(609.9,1507.3)" d="M-14.1,-17.4 C-2,-14 12,-7 12.1,-1.4 C12,5 0,9 -13.5,10.1 M-8.4,-14.8 L-5.8,6.9" fill="none" stroke="#1e1e1e" stroke-width="3.8" stroke-linecap="round" stroke-linejoin="round"/>
</g>
<g>
<rect x="658.8" y="1472.8" width="52.1" height="69.1" rx="13" fill="#ffec99" stroke="#1e1e1e" stroke-width="4.2" />
<path transform="translate(684.9,1507.3)" d="M9.9,-11 L9.3,-13.2 C3,-12.5 -4,-12 -10.5,-11.6 L-10.5,9.5 C-3,8 4,7 11.2,6.5 M-8.6,-1.4 L11.2,-3.3" fill="none" stroke="#1e1e1e" stroke-width="3.8" stroke-linecap="round" stroke-linejoin="round"/>
</g>
<g>
<rect x="733.8" y="1472.8" width="52.1" height="69.1" rx="13" fill="#ffec99" stroke="#1e1e1e" stroke-width="4.2" />
<path transform="translate(759.9,1507.3)" d="M-7.6,-12.3 L9,-13.5 M0,-12.3 L-1.9,8.8 M-8.3,10.1 L8.3,7.5" fill="none" stroke="#1e1e1e" stroke-width="3.8" stroke-linecap="round" stroke-linejoin="round"/>
</g>
<g>
<rect x="808.8" y="1472.8" width="54.1" height="69.1" rx="13" fill="#a5d8ff" stroke="#1e1e1e" stroke-width="4.2" />
<path transform="translate(835.9,1507.3)" d="M-1.9,-15.5 L-8.9,5.6 C-9,8 -8,8.8 -7,8.8 L9,8.8" fill="none" stroke="#1e1e1e" stroke-width="3.8" stroke-linecap="round" stroke-linejoin="round"/>
</g>
<g>
<rect x="358.1" y="1608.8" width="51.5" height="68.4" rx="13" fill="#a5d8ff" fill-opacity="0.3" stroke="#1e1e1e" stroke-opacity="0.3" stroke-width="4.2"/>
<path transform="translate(383.9,1643.0)" d="M-12.5,10.7 C-6,5 3,-6 7.9,-17.4 L8.2,11 M-4.1,4.4 L11.7,2.3" fill="none" stroke="#a9b3bb" stroke-width="3.8" stroke-linecap="round" stroke-linejoin="round"/>
</g>
<g>
<rect x="432.1" y="1608.8" width="52.5" height="68.4" rx="13" fill="#a5d8ff" fill-opacity="0.3" stroke="#1e1e1e" stroke-opacity="0.3" stroke-width="4.2"/>
<path transform="translate(458.4,1643.0)" d="M-11.5,-19.3 C0,-19 11,-15.5 10.9,-10.5 C10.5,-5 2,-3.5 -4.5,-3.3 C6,-2.5 12.5,1 12.1,6 C11.5,11 2,12.5 -12.8,9.5 M-6.4,-17.4 L-4.5,8.8" fill="none" stroke="#a9b3bb" stroke-width="3.8" stroke-linecap="round" stroke-linejoin="round"/>
</g>
<g>
<rect x="507.1" y="1608.8" width="53.8" height="68.4" rx="13" fill="#a5d8ff" fill-opacity="0.3" stroke="#1e1e1e" stroke-opacity="0.3" stroke-width="4.2"/>
<path transform="translate(534.0,1643.0)" d="M9.4,-5.2 C9.6,-9 8,-14.8 5.5,-14.8 C-3,-13.5 -10,-7.5 -9.8,-1.5 C-9.5,5.5 -4,9.8 1,9.7 C5,9.6 8,8.5 10,7.5" fill="none" stroke="#a9b3bb" stroke-width="3.8" stroke-linecap="round" stroke-linejoin="round"/>
</g>
<g>
<rect x="583.8" y="1608.8" width="52.1" height="68.4" rx="13" fill="#a5d8ff" fill-opacity="0.3" stroke="#1e1e1e" stroke-opacity="0.3" stroke-width="4.2"/>
<path transform="translate(609.9,1643.0)" d="M-14.1,-17.4 C-2,-14 12,-7 12.1,-1.4 C12,5 0,9 -13.5,10.1 M-8.4,-14.8 L-5.8,6.9" fill="none" stroke="#a9b3bb" stroke-width="3.8" stroke-linecap="round" stroke-linejoin="round"/>
</g>
<g>
<rect x="658.8" y="1608.8" width="52.1" height="68.4" rx="13" fill="#ffec99" fill-opacity="0.3" stroke="#1e1e1e" stroke-opacity="0.3" stroke-width="4.2"/>
<path transform="translate(684.9,1643.0)" d="M9.9,-11 L9.3,-13.2 C3,-12.5 -4,-12 -10.5,-11.6 L-10.5,9.5 C-3,8 4,7 11.2,6.5 M-8.6,-1.4 L11.2,-3.3" fill="none" stroke="#bbb8aa" stroke-width="3.8" stroke-linecap="round" stroke-linejoin="round"/>
</g>
<g>
<rect x="733.8" y="1608.8" width="52.1" height="68.4" rx="13" fill="#ffec99" fill-opacity="0.3" stroke="#1e1e1e" stroke-opacity="0.3" stroke-width="4.2"/>
<path transform="translate(759.9,1643.0)" d="M-7.6,-12.3 L9,-13.5 M0,-12.3 L-1.9,8.8 M-8.3,10.1 L8.3,7.5" fill="none" stroke="#bbb8aa" stroke-width="3.8" stroke-linecap="round" stroke-linejoin="round"/>
</g>
<g>
<rect x="808.8" y="1608.8" width="54.1" height="68.4" rx="13" fill="#ffec99" stroke="#1e1e1e" stroke-width="4.2" />
<path transform="translate(835.9,1643.0)" d="M-13.6,6.9 C-9,2 -7,-8 -5.7,-14.4 C-3,-8 -1,-3 0.8,1 C3,-4 5,-10 6.2,-13.9 C7.5,-5 9,5 12.2,10.9" fill="none" stroke="#1e1e1e" stroke-width="3.8" stroke-linecap="round" stroke-linejoin="round"/>
</g>
<path d="M1257,79 L462,79.4" fill="none" stroke="#787878" stroke-width="4.6" stroke-dasharray="3 15.9" stroke-linecap="round"/>
<path d="M1259,213 L531,217" fill="none" stroke="#787878" stroke-width="4.6" stroke-dasharray="3 15.9" stroke-linecap="round"/>
<path d="M1259,337.4 L611,341" fill="none" stroke="#787878" stroke-width="4.6" stroke-dasharray="3 15.9" stroke-linecap="round"/>
<path d="M1260,474.7 L687,482" fill="none" stroke="#787878" stroke-width="4.6" stroke-dasharray="3 15.9" stroke-linecap="round"/>
<path d="M1263,604 L769,605" fill="none" stroke="#787878" stroke-width="4.6" stroke-dasharray="3 15.9" stroke-linecap="round"/>
<path d="M1041,962 L841,962" fill="none" stroke="#787878" stroke-width="4.6" stroke-dasharray="3 15.9" stroke-linecap="round"/>
<path d="M1453,1092 L843,1092.6" fill="none" stroke="#787878" stroke-width="4.6" stroke-dasharray="3 15.9" stroke-linecap="round"/>
<path d="M1260,1502 L909,1503" fill="none" stroke="#787878" stroke-width="4.6" stroke-dasharray="3 15.9" stroke-linecap="round"/>
<path d="M1260,1644.5 L910,1645" fill="none" stroke="#787878" stroke-width="4.6" stroke-dasharray="3 15.9" stroke-linecap="round"/>
<path d="M1261.0,727.6 C1246.0,720.6 1200.5,699.1 1171.0,685.7 C1141.5,672.3 1110.8,657.8 1084.0,647.0 C1057.2,636.2 1033.1,627.4 1010.0,621.0 C986.9,614.6 970.6,611.1 945.6,608.4 C920.6,605.7 889.4,605.6 860.0,605.0 C830.6,604.4 784.2,605.0 769.0,605.0" fill="none" stroke="#787878" stroke-width="4.6" stroke-dasharray="3 15.9" stroke-linecap="round"/>
<path d="M1261.0,835.6 C1251.9,826.8 1224.3,800.9 1206.6,782.6 C1188.9,764.3 1172.8,743.8 1155.0,726.0 C1137.2,708.2 1118.8,690.8 1100.0,676.0 C1081.2,661.2 1062.3,647.2 1042.0,637.0 C1021.7,626.8 999.5,619.6 978.0,614.8 C956.5,610.0 936.0,609.9 913.0,608.4 C890.0,606.9 864.0,606.1 840.0,605.5 C816.0,604.9 780.8,605.1 769.0,605.0" fill="none" stroke="#787878" stroke-width="4.6" stroke-dasharray="3 15.9" stroke-linecap="round"/>
<path d="M1269.0,1234.0 C1257.2,1227.7 1223.5,1210.3 1198.0,1196.0 C1172.5,1181.7 1139.8,1161.7 1116.0,1148.0 C1092.2,1134.3 1076.3,1122.5 1055.0,1114.0 C1033.7,1105.5 1010.5,1100.5 988.0,1097.0 C965.5,1093.5 944.2,1093.7 920.0,1093.0 C895.8,1092.3 855.8,1093.0 843.0,1093.0" fill="none" stroke="#787878" stroke-width="4.6" stroke-dasharray="3 15.9" stroke-linecap="round"/>
<path d="M1257.6,1354.7 C1249.5,1345.2 1227.4,1319.3 1209.0,1298.0 C1190.6,1276.7 1165.8,1248.2 1147.0,1227.0 C1128.2,1205.8 1111.6,1186.5 1096.0,1170.5 C1080.4,1154.5 1068.7,1142.1 1053.5,1131.0 C1038.3,1119.9 1018.2,1109.9 1005.0,1104.0 C991.8,1098.1 989.8,1097.2 974.0,1095.4 C958.2,1093.6 931.8,1093.4 910.0,1093.0 C888.2,1092.6 854.2,1093.0 843.0,1093.0" fill="none" stroke="#787878" stroke-width="4.6" stroke-dasharray="3 15.9" stroke-linecap="round"/>
<path d="M431.0,79.4 L460.0,64.4 L460.0,94.0 Z" fill="#777777" stroke="#585858" stroke-width="4" stroke-linejoin="round"/>
<path d="M499.0,217.5 L529.0,203.0 L529.0,231.7 Z" fill="#777777" stroke="#585858" stroke-width="4" stroke-linejoin="round"/>
<path d="M580.0,341.2 L609.0,327.7 L609.0,354.7 Z" fill="#777777" stroke="#585858" stroke-width="4" stroke-linejoin="round"/>
<path d="M656.5,482.0 L685.0,468.5 L685.0,496.0 Z" fill="#777777" stroke="#585858" stroke-width="4" stroke-linejoin="round"/>
<path d="M736.0,605.0 L767.0,592.0 L767.0,619.6 Z" fill="#777777" stroke="#585858" stroke-width="4" stroke-linejoin="round"/>
<path d="M808.0,962.0 L839.0,948.0 L839.0,977.0 Z" fill="#777777" stroke="#585858" stroke-width="4" stroke-linejoin="round"/>
<path d="M812.7,1092.6 L841.0,1078.4 L841.0,1106.8 Z" fill="#777777" stroke="#585858" stroke-width="4" stroke-linejoin="round"/>
<path d="M877.6,1503.0 L907.0,1489.0 L907.0,1517.0 Z" fill="#777777" stroke="#585858" stroke-width="4" stroke-linejoin="round"/>
<path d="M879.0,1645.0 L908.6,1631.4 L908.6,1659.0 Z" fill="#777777" stroke="#585858" stroke-width="4" stroke-linejoin="round"/>
<line x1="1288.5" y1="178.0" x2="1287.8" y2="114.3" stroke="#1e1e1e" stroke-width="4.5" stroke-linecap="round" />
<line x1="1287.8" y1="114.3" x2="1277.5" y2="142.5" stroke="#1e1e1e" stroke-width="4.5" stroke-linecap="round"/>
<line x1="1287.8" y1="114.3" x2="1298.6" y2="142.3" stroke="#1e1e1e" stroke-width="4.5" stroke-linecap="round"/>
<line x1="1290.0" y1="302.6" x2="1288.5" y2="251.0" stroke="#1e1e1e" stroke-width="4.5" stroke-linecap="round" />
<line x1="1288.5" y1="251.0" x2="1278.7" y2="279.4" stroke="#1e1e1e" stroke-width="4.5" stroke-linecap="round"/>
<line x1="1288.5" y1="251.0" x2="1299.9" y2="278.7" stroke="#1e1e1e" stroke-width="4.5" stroke-linecap="round"/>
<line x1="1290.8" y1="438.3" x2="1290.0" y2="374.0" stroke="#1e1e1e" stroke-width="4.5" stroke-linecap="round" />
<line x1="1290.0" y1="374.0" x2="1279.8" y2="402.2" stroke="#1e1e1e" stroke-width="4.5" stroke-linecap="round"/>
<line x1="1290.0" y1="374.0" x2="1300.9" y2="401.9" stroke="#1e1e1e" stroke-width="4.5" stroke-linecap="round"/>
<line x1="1293.0" y1="566.0" x2="1290.8" y2="510.0" stroke="#1e1e1e" stroke-width="4.5" stroke-linecap="round" />
<line x1="1290.8" y1="510.0" x2="1281.3" y2="538.5" stroke="#1e1e1e" stroke-width="4.5" stroke-linecap="round"/>
<line x1="1290.8" y1="510.0" x2="1302.5" y2="537.6" stroke="#1e1e1e" stroke-width="4.5" stroke-linecap="round"/>
<line x1="1292.3" y1="687.0" x2="1293.0" y2="639.0" stroke="#1e1e1e" stroke-width="4.5" stroke-linecap="round" />
<line x1="1293.0" y1="639.0" x2="1282.0" y2="666.9" stroke="#1e1e1e" stroke-width="4.5" stroke-linecap="round"/>
<line x1="1293.0" y1="639.0" x2="1303.2" y2="667.2" stroke="#1e1e1e" stroke-width="4.5" stroke-linecap="round"/>
<line x1="1293.0" y1="814.0" x2="1292.3" y2="760.0" stroke="#1e1e1e" stroke-width="4.5" stroke-linecap="round" />
<line x1="1292.3" y1="760.0" x2="1282.1" y2="788.2" stroke="#1e1e1e" stroke-width="4.5" stroke-linecap="round"/>
<line x1="1292.3" y1="760.0" x2="1303.2" y2="787.9" stroke="#1e1e1e" stroke-width="4.5" stroke-linecap="round"/>
<line x1="1290.0" y1="1330.3" x2="1290.8" y2="1263.4" stroke="#1e1e1e" stroke-width="4.5" stroke-linecap="round" />
<line x1="1290.8" y1="1263.4" x2="1279.9" y2="1291.3" stroke="#1e1e1e" stroke-width="4.5" stroke-linecap="round"/>
<line x1="1290.8" y1="1263.4" x2="1301.1" y2="1291.6" stroke="#1e1e1e" stroke-width="4.5" stroke-linecap="round"/>
<line x1="1290.0" y1="1470.4" x2="1290.0" y2="1403.5" stroke="#1e1e1e" stroke-width="4.5" stroke-linecap="round" />
<line x1="1290.0" y1="1403.5" x2="1279.4" y2="1431.6" stroke="#1e1e1e" stroke-width="4.5" stroke-linecap="round"/>
<line x1="1290.0" y1="1403.5" x2="1300.6" y2="1431.6" stroke="#1e1e1e" stroke-width="4.5" stroke-linecap="round"/>
<line x1="1290.0" y1="1613.5" x2="1290.0" y2="1543.5" stroke="#1e1e1e" stroke-width="4.5" stroke-linecap="round" />
<line x1="1290.0" y1="1543.5" x2="1279.4" y2="1571.6" stroke="#1e1e1e" stroke-width="4.5" stroke-linecap="round"/>
<line x1="1290.0" y1="1543.5" x2="1300.6" y2="1571.6" stroke="#1e1e1e" stroke-width="4.5" stroke-linecap="round"/>
<line x1="1102.0" y1="949.0" x2="1262.0" y2="845.0" stroke="#1e1e1e" stroke-width="4.5" stroke-linecap="round" />
<line x1="1262.0" y1="845.0" x2="1212.2" y2="855.9" stroke="#1e1e1e" stroke-width="4.5" stroke-linecap="round"/>
<line x1="1262.0" y1="845.0" x2="1231.8" y2="886.1" stroke="#1e1e1e" stroke-width="4.5" stroke-linecap="round"/>
<line x1="1453.0" y1="1063.8" x2="1321.0" y2="866.7" stroke="#1e1e1e" stroke-width="5.5" stroke-linecap="round" />
<line x1="1321.0" y1="866.7" x2="1332.9" y2="917.3" stroke="#1e1e1e" stroke-width="5.5" stroke-linecap="round"/>
<line x1="1321.0" y1="866.7" x2="1363.3" y2="896.9" stroke="#1e1e1e" stroke-width="5.5" stroke-linecap="round"/>
<line x1="1262.7" y1="1213.0" x2="1061.0" y2="1001.0" stroke="#1e1e1e" stroke-width="4.5" stroke-linecap="round" />
<line x1="1061.0" y1="1001.0" x2="1080.9" y2="1048.0" stroke="#1e1e1e" stroke-width="4.5" stroke-linecap="round"/>
<line x1="1061.0" y1="1001.0" x2="1106.9" y2="1023.2" stroke="#1e1e1e" stroke-width="4.5" stroke-linecap="round"/>
<line x1="1319.0" y1="1222.0" x2="1488.0" y2="1124.5" stroke="#1e1e1e" stroke-width="5.5" stroke-linecap="round" />
<line x1="1488.0" y1="1124.5" x2="1437.5" y2="1131.8" stroke="#1e1e1e" stroke-width="5.5" stroke-linecap="round"/>
<line x1="1488.0" y1="1124.5" x2="1456.4" y2="1164.6" stroke="#1e1e1e" stroke-width="5.5" stroke-linecap="round"/>
<g>
<rect x="1261.1" y="43.9" width="53.3" height="67.3" rx="13" fill="#a5d8ff" stroke="#1e1e1e" stroke-width="4.2" />
<path transform="translate(1287.8,77.5)" d="M-12.5,10.7 C-6,5 3,-6 7.9,-17.4 L8.2,11 M-4.1,4.4 L11.7,2.3" fill="none" stroke="#1e1e1e" stroke-width="3.8" stroke-linecap="round" stroke-linejoin="round"/>
</g>
<g>
<rect x="1262.5" y="179.1" width="51.9" height="68.8" rx="13" fill="#a5d8ff" stroke="#1e1e1e" stroke-width="4.2" />
<path transform="translate(1288.5,213.5)" d="M-11.5,-19.3 C0,-19 11,-15.5 10.9,-10.5 C10.5,-5 2,-3.5 -4.5,-3.3 C6,-2.5 12.5,1 12.1,6 C11.5,11 2,12.5 -12.8,9.5 M-6.4,-17.4 L-4.5,8.8" fill="none" stroke="#1e1e1e" stroke-width="3.8" stroke-linecap="round" stroke-linejoin="round"/>
</g>
<g>
<rect x="1262.5" y="303.7" width="55.0" height="67.2" rx="13" fill="#a5d8ff" stroke="#1e1e1e" stroke-width="4.2" />
<path transform="translate(1290.0,337.3)" d="M9.4,-5.2 C9.6,-9 8,-14.8 5.5,-14.8 C-3,-13.5 -10,-7.5 -9.8,-1.5 C-9.5,5.5 -4,9.8 1,9.7 C5,9.6 8,8.5 10,7.5" fill="none" stroke="#1e1e1e" stroke-width="3.8" stroke-linecap="round" stroke-linejoin="round"/>
</g>
<g>
<rect x="1264.1" y="439.4" width="53.4" height="67.5" rx="13" fill="#a5d8ff" stroke="#1e1e1e" stroke-width="4.2" />
<path transform="translate(1290.8,473.1)" d="M-14.1,-17.4 C-2,-14 12,-7 12.1,-1.4 C12,5 0,9 -13.5,10.1 M-8.4,-14.8 L-5.8,6.9" fill="none" stroke="#1e1e1e" stroke-width="3.8" stroke-linecap="round" stroke-linejoin="round"/>
</g>
<g>
<rect x="1267.1" y="567.1" width="51.8" height="68.8" rx="13" fill="#ffec99" stroke="#1e1e1e" stroke-width="4.2" />
<path transform="translate(1293.0,601.5)" d="M9.9,-11 L9.3,-13.2 C3,-12.5 -4,-12 -10.5,-11.6 L-10.5,9.5 C-3,8 4,7 11.2,6.5 M-8.6,-1.4 L11.2,-3.3" fill="none" stroke="#1e1e1e" stroke-width="3.8" stroke-linecap="round" stroke-linejoin="round"/>
</g>
<g>
<rect x="1265.7" y="688.1" width="53.2" height="68.8" rx="13" fill="#ffffff" stroke="#1e1e1e" stroke-width="4.2" />
<clipPath id="c1263_686"><rect x="1267.6" y="690" width="49.40000000000009" height="65" rx="10"/></clipPath>
<g clip-path="url(#c1263_686)" stroke="#ffec99" stroke-width="2.9">
<line x1="1163.6" y1="759" x2="1236.6" y2="686"/>
<line x1="1188.6" y1="759" x2="1261.6" y2="686"/>
<line x1="1213.6" y1="759" x2="1286.6" y2="686"/>
<line x1="1238.6" y1="759" x2="1311.6" y2="686"/>
<line x1="1263.6" y1="759" x2="1336.6" y2="686"/>
<line x1="1288.6" y1="759" x2="1361.6" y2="686"/>
<line x1="1313.6" y1="759" x2="1386.6" y2="686"/>
<line x1="1338.6" y1="759" x2="1411.6" y2="686"/>
<line x1="1363.6" y1="759" x2="1436.6" y2="686"/>
<line x1="1388.6" y1="759" x2="1461.6" y2="686"/>
</g>
<rect x="1265.7" y="688.1" width="53.2" height="68.8" rx="13" fill="none" stroke="#1e1e1e" stroke-width="4.2"/>
<path transform="translate(1292.3,722.5)" d="M-10.3,-12.3 C-3,-14 5,-15.5 12.9,-15.5 M-7.8,-11.7 L-8.2,10.3 M-7.2,-1 L9.8,-2.3" fill="none" stroke="#1e1e1e" stroke-width="3.8" stroke-linecap="round" stroke-linejoin="round"/>
</g>
<g>
<rect x="1267.1" y="815.1" width="51.8" height="68.8" rx="13" fill="#ffffff" stroke="#1e1e1e" stroke-width="4.2" />
<clipPath id="c1265_813"><rect x="1269" y="817" width="48" height="65" rx="10"/></clipPath>
<g clip-path="url(#c1265_813)" stroke="#a5d8ff" stroke-width="2.9">
<line x1="1165" y1="886" x2="1238" y2="813"/>
<line x1="1190" y1="886" x2="1263" y2="813"/>
<line x1="1215" y1="886" x2="1288" y2="813"/>
<line x1="1240" y1="886" x2="1313" y2="813"/>
<line x1="1265" y1="886" x2="1338" y2="813"/>
<line x1="1290" y1="886" x2="1363" y2="813"/>
<line x1="1315" y1="886" x2="1388" y2="813"/>
<line x1="1340" y1="886" x2="1413" y2="813"/>
<line x1="1365" y1="886" x2="1438" y2="813"/>
<line x1="1390" y1="886" x2="1463" y2="813"/>
</g>
<rect x="1267.1" y="815.1" width="51.8" height="68.8" rx="13" fill="none" stroke="#1e1e1e" stroke-width="4.2"/>
<path transform="translate(1293.0,849.5)" d="M10.4,-13.7 C6,-15.5 1,-15.8 -1.6,-15.6 C-8,-13 -13.5,-6 -13.5,0.1 C-13.5,6 -8,9.5 -2.8,9.5 C3,9.5 7,7 10.8,4 M0.9,-3 L12.9,-2 M12.4,-2 L9.2,11" fill="none" stroke="#1e1e1e" stroke-width="3.8" stroke-linecap="round" stroke-linejoin="round"/>
</g>
<g>
<rect x="1045.9" y="929.4" width="54.3" height="67.3" rx="13" fill="#a5d8ff" stroke="#1e1e1e" stroke-width="4.2" />
<path transform="translate(1073.0,963.0)" d="M-6.3,-13.3 L-7.5,9.1 M7.7,-14.3 C6,-5 5,3 5.7,12.6 M-8.8,1.7 L5.7,0.7" fill="none" stroke="#1e1e1e" stroke-width="3.8" stroke-linecap="round" stroke-linejoin="round"/>
</g>
<g>
<rect x="1457.6" y="1052.9" width="52.1" height="67.3" rx="13" fill="#ffec99" stroke="#1e1e1e" stroke-width="4.2" />
<path transform="translate(1483.7,1086.5)" d="M-7.6,-12.3 L9,-13.5 M0,-12.3 L-1.9,8.8 M-8.3,10.1 L8.3,7.5" fill="none" stroke="#1e1e1e" stroke-width="3.8" stroke-linecap="round" stroke-linejoin="round"/>
</g>
<g>
<rect x="1264.8" y="1193.8" width="52.1" height="66.5" rx="13" fill="#ffffff" stroke="#1e1e1e" stroke-width="4.2" />
<clipPath id="c1262_1191"><rect x="1266.7" y="1195.7" width="48.299999999999955" height="62.700000000000045" rx="10"/></clipPath>
<g clip-path="url(#c1262_1191)" stroke="#ffec99" stroke-width="2.9">
<line x1="1162.7" y1="1262.4" x2="1233.4" y2="1191.7"/>
<line x1="1187.7" y1="1262.4" x2="1258.4" y2="1191.7"/>
<line x1="1212.7" y1="1262.4" x2="1283.4" y2="1191.7"/>
<line x1="1237.7" y1="1262.4" x2="1308.4" y2="1191.7"/>
<line x1="1262.7" y1="1262.4" x2="1333.4" y2="1191.7"/>
<line x1="1287.7" y1="1262.4" x2="1358.4" y2="1191.7"/>
<line x1="1312.7" y1="1262.4" x2="1383.4" y2="1191.7"/>
<line x1="1337.7" y1="1262.4" x2="1408.4" y2="1191.7"/>
<line x1="1362.7" y1="1262.4" x2="1433.4" y2="1191.7"/>
<line x1="1387.7" y1="1262.4" x2="1458.4" y2="1191.7"/>
</g>
<rect x="1264.8" y="1193.8" width="52.1" height="66.5" rx="13" fill="none" stroke="#1e1e1e" stroke-width="4.2"/>
<path transform="translate(1290.8,1227.1)" d="M-3.6,-13.7 L8.9,-14.3 M7.6,-13.7 L7.6,4 C7.6,8 2,9 -8.8,4.7" fill="none" stroke="#1e1e1e" stroke-width="3.8" stroke-linecap="round" stroke-linejoin="round"/>
</g>
<g>
<rect x="1264.1" y="1331.4" width="51.8" height="69.0" rx="13" fill="#ffffff" stroke="#1e1e1e" stroke-width="4.2" />
<clipPath id="c1262_1329"><rect x="1266" y="1333.3" width="48" height="65.20000000000005" rx="10"/></clipPath>
<g clip-path="url(#c1262_1329)" stroke="#a5d8ff" stroke-width="2.9">
<line x1="1162" y1="1402.5" x2="1235.2" y2="1329.3"/>
<line x1="1187" y1="1402.5" x2="1260.2" y2="1329.3"/>
<line x1="1212" y1="1402.5" x2="1285.2" y2="1329.3"/>
<line x1="1237" y1="1402.5" x2="1310.2" y2="1329.3"/>
<line x1="1262" y1="1402.5" x2="1335.2" y2="1329.3"/>
<line x1="1287" y1="1402.5" x2="1360.2" y2="1329.3"/>
<line x1="1312" y1="1402.5" x2="1385.2" y2="1329.3"/>
<line x1="1337" y1="1402.5" x2="1410.2" y2="1329.3"/>
<line x1="1362" y1="1402.5" x2="1435.2" y2="1329.3"/>
<line x1="1387" y1="1402.5" x2="1460.2" y2="1329.3"/>
</g>
<rect x="1264.1" y="1331.4" width="51.8" height="69.0" rx="13" fill="none" stroke="#1e1e1e" stroke-width="4.2"/>
<path transform="translate(1290.0,1365.9)" d="M-5.4,-13.5 L-8.7,8.8 M9.7,-13.5 L-6.6,-1.9 L4.7,9.9" fill="none" stroke="#1e1e1e" stroke-width="3.8" stroke-linecap="round" stroke-linejoin="round"/>
</g>
<g>
<rect x="1264.1" y="1471.5" width="51.8" height="68.9" rx="13" fill="#a5d8ff" stroke="#1e1e1e" stroke-width="4.2" />
<path transform="translate(1290.0,1506.0)" d="M-1.9,-15.5 L-8.9,5.6 C-9,8 -8,8.8 -7,8.8 L9,8.8" fill="none" stroke="#1e1e1e" stroke-width="3.8" stroke-linecap="round" stroke-linejoin="round"/>
</g>
<g>
<rect x="1264.1" y="1614.6" width="51.8" height="67.3" rx="13" fill="#ffec99" stroke="#1e1e1e" stroke-width="4.2" />
<path transform="translate(1290.0,1648.2)" d="M-13.6,6.9 C-9,2 -7,-8 -5.7,-14.4 C-3,-8 -1,-3 0.8,1 C3,-4 5,-10 6.2,-13.9 C7.5,-5 9,5 12.2,10.9" fill="none" stroke="#1e1e1e" stroke-width="3.8" stroke-linecap="round" stroke-linejoin="round"/>
</g>
</svg>
</body></html>
